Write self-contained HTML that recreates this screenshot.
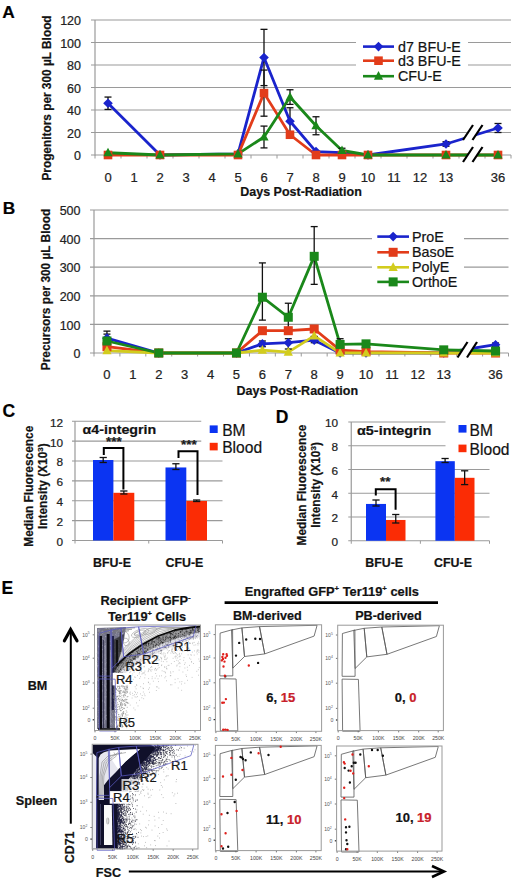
<!DOCTYPE html><html><head><meta charset="utf-8"><style>html,body{margin:0;padding:0;background:#fff;width:520px;height:883px;overflow:hidden}svg{display:block} text{stroke:#222;stroke-width:0.22px;paint-order:fill} .nr{stroke:none}</style></head><body><svg width="520" height="883" viewBox="0 0 520 883" font-family='"Liberation Sans", sans-serif'>
<rect width="520" height="883" fill="#fff"/>
<text x="2.20" y="17.60" font-size="17.3" font-weight="bold" text-anchor="start" fill="#000" >A</text>
<text x="2.70" y="213.60" font-size="17.3" font-weight="bold" text-anchor="start" fill="#000" >B</text>
<text x="2.50" y="416.60" font-size="17.5" font-weight="bold" text-anchor="start" fill="#000" >C</text>
<text x="275.80" y="423.40" font-size="17.5" font-weight="bold" text-anchor="start" fill="#000" >D</text>
<text x="1.60" y="593.50" font-size="17.5" font-weight="bold" text-anchor="start" fill="#000" >E</text>
<line x1="91.00" y1="132.50" x2="511.00" y2="132.50" stroke="#9a9a9a" stroke-width="1.2" />
<line x1="91.00" y1="110.00" x2="511.00" y2="110.00" stroke="#9a9a9a" stroke-width="1.2" />
<line x1="91.00" y1="87.50" x2="511.00" y2="87.50" stroke="#9a9a9a" stroke-width="1.2" />
<line x1="91.00" y1="65.00" x2="511.00" y2="65.00" stroke="#9a9a9a" stroke-width="1.2" />
<line x1="91.00" y1="42.50" x2="511.00" y2="42.50" stroke="#9a9a9a" stroke-width="1.2" />
<line x1="91.00" y1="20.00" x2="511.00" y2="20.00" stroke="#9a9a9a" stroke-width="1.2" />
<line x1="95.00" y1="20.00" x2="95.00" y2="155.50" stroke="#9a9a9a" stroke-width="1.2" />
<line x1="91.00" y1="155.00" x2="511.00" y2="155.00" stroke="#9a9a9a" stroke-width="1.2" />
<line x1="95.00" y1="155.00" x2="95.00" y2="158.50" stroke="#9a9a9a" stroke-width="1" />
<line x1="121.00" y1="155.00" x2="121.00" y2="158.50" stroke="#9a9a9a" stroke-width="1" />
<line x1="147.00" y1="155.00" x2="147.00" y2="158.50" stroke="#9a9a9a" stroke-width="1" />
<line x1="173.00" y1="155.00" x2="173.00" y2="158.50" stroke="#9a9a9a" stroke-width="1" />
<line x1="199.00" y1="155.00" x2="199.00" y2="158.50" stroke="#9a9a9a" stroke-width="1" />
<line x1="225.00" y1="155.00" x2="225.00" y2="158.50" stroke="#9a9a9a" stroke-width="1" />
<line x1="251.00" y1="155.00" x2="251.00" y2="158.50" stroke="#9a9a9a" stroke-width="1" />
<line x1="277.00" y1="155.00" x2="277.00" y2="158.50" stroke="#9a9a9a" stroke-width="1" />
<line x1="303.00" y1="155.00" x2="303.00" y2="158.50" stroke="#9a9a9a" stroke-width="1" />
<line x1="329.00" y1="155.00" x2="329.00" y2="158.50" stroke="#9a9a9a" stroke-width="1" />
<line x1="355.00" y1="155.00" x2="355.00" y2="158.50" stroke="#9a9a9a" stroke-width="1" />
<line x1="381.00" y1="155.00" x2="381.00" y2="158.50" stroke="#9a9a9a" stroke-width="1" />
<line x1="407.00" y1="155.00" x2="407.00" y2="158.50" stroke="#9a9a9a" stroke-width="1" />
<line x1="433.00" y1="155.00" x2="433.00" y2="158.50" stroke="#9a9a9a" stroke-width="1" />
<line x1="459.00" y1="155.00" x2="459.00" y2="158.50" stroke="#9a9a9a" stroke-width="1" />
<line x1="485.00" y1="155.00" x2="485.00" y2="158.50" stroke="#9a9a9a" stroke-width="1" />
<line x1="511.00" y1="155.00" x2="511.00" y2="158.50" stroke="#9a9a9a" stroke-width="1" />
<text x="81.00" y="160.20" font-size="12.5" font-weight="normal" text-anchor="end" fill="#222" >0</text>
<text x="81.00" y="137.70" font-size="12.5" font-weight="normal" text-anchor="end" fill="#222" >20</text>
<text x="81.00" y="115.20" font-size="12.5" font-weight="normal" text-anchor="end" fill="#222" >40</text>
<text x="81.00" y="92.70" font-size="12.5" font-weight="normal" text-anchor="end" fill="#222" >60</text>
<text x="81.00" y="70.20" font-size="12.5" font-weight="normal" text-anchor="end" fill="#222" >80</text>
<text x="81.00" y="47.70" font-size="12.5" font-weight="normal" text-anchor="end" fill="#222" >100</text>
<text x="81.00" y="25.20" font-size="12.5" font-weight="normal" text-anchor="end" fill="#222" >120</text>
<text x="108.00" y="182.00" font-size="13" font-weight="normal" text-anchor="middle" fill="#222" >0</text>
<text x="134.00" y="182.00" font-size="13" font-weight="normal" text-anchor="middle" fill="#222" >1</text>
<text x="160.00" y="182.00" font-size="13" font-weight="normal" text-anchor="middle" fill="#222" >2</text>
<text x="186.00" y="182.00" font-size="13" font-weight="normal" text-anchor="middle" fill="#222" >3</text>
<text x="212.00" y="182.00" font-size="13" font-weight="normal" text-anchor="middle" fill="#222" >4</text>
<text x="238.00" y="182.00" font-size="13" font-weight="normal" text-anchor="middle" fill="#222" >5</text>
<text x="264.00" y="182.00" font-size="13" font-weight="normal" text-anchor="middle" fill="#222" >6</text>
<text x="290.00" y="182.00" font-size="13" font-weight="normal" text-anchor="middle" fill="#222" >7</text>
<text x="316.00" y="182.00" font-size="13" font-weight="normal" text-anchor="middle" fill="#222" >8</text>
<text x="342.00" y="182.00" font-size="13" font-weight="normal" text-anchor="middle" fill="#222" >9</text>
<text x="368.00" y="182.00" font-size="13" font-weight="normal" text-anchor="middle" fill="#222" >10</text>
<text x="394.00" y="182.00" font-size="13" font-weight="normal" text-anchor="middle" fill="#222" >11</text>
<text x="420.00" y="182.00" font-size="13" font-weight="normal" text-anchor="middle" fill="#222" >12</text>
<text x="446.00" y="182.00" font-size="13" font-weight="normal" text-anchor="middle" fill="#222" >13</text>
<text x="498.00" y="182.00" font-size="13" font-weight="normal" text-anchor="middle" fill="#222" >36</text>
<text x="301.00" y="196.00" font-size="12.5" font-weight="bold" text-anchor="middle" fill="#111" >Days Post-Radiation</text>
<text transform="translate(51,98) rotate(-90)" font-size="11.85" font-weight="bold" text-anchor="middle" fill="#111">Progenitors per 300 µL Blood</text>
<rect x="356" y="35" width="112" height="49" fill="#fff"/>
<path d="M108.00 103.25 L160.00 155.00 L238.00 153.88 L264.00 57.46 L290.00 121.25 L316.00 151.62 L342.00 152.75 L368.00 155.00 L446.00 143.97" fill="none" stroke="#1a24cc" stroke-width="2.8" stroke-linejoin="round"/>
<path d="M446.00 143.97 L498.00 128.00" fill="none" stroke="#1a24cc" stroke-width="2.8" stroke-linejoin="round"/>
<path d="M108.00 155.00 L160.00 155.00 L238.00 155.00 L264.00 93.12 L290.00 134.75 L316.00 155.00 L342.00 155.00 L368.00 155.00 L446.00 155.00" fill="none" stroke="#e23c1a" stroke-width="2.8" stroke-linejoin="round"/>
<path d="M446.00 155.00 L498.00 155.00" fill="none" stroke="#e23c1a" stroke-width="2.8" stroke-linejoin="round"/>
<path d="M108.00 152.75 L160.00 155.00 L238.00 153.88 L264.00 137.00 L290.00 97.06 L316.00 125.75 L342.00 150.50 L368.00 155.00 L446.00 155.00" fill="none" stroke="#1a881a" stroke-width="2.8" stroke-linejoin="round"/>
<path d="M446.00 155.00 L498.00 155.00" fill="none" stroke="#1a881a" stroke-width="2.8" stroke-linejoin="round"/>
<line x1="108.00" y1="97.06" x2="108.00" y2="109.44" stroke="#111" stroke-width="1.3" />
<line x1="104.50" y1="97.06" x2="111.50" y2="97.06" stroke="#111" stroke-width="1.3" />
<line x1="104.50" y1="109.44" x2="111.50" y2="109.44" stroke="#111" stroke-width="1.3" />
<line x1="264.00" y1="29.34" x2="264.00" y2="85.59" stroke="#111" stroke-width="1.3" />
<line x1="260.50" y1="29.34" x2="267.50" y2="29.34" stroke="#111" stroke-width="1.3" />
<line x1="260.50" y1="85.59" x2="267.50" y2="85.59" stroke="#111" stroke-width="1.3" />
<line x1="290.00" y1="107.75" x2="290.00" y2="134.75" stroke="#111" stroke-width="1.3" />
<line x1="286.50" y1="107.75" x2="293.50" y2="107.75" stroke="#111" stroke-width="1.3" />
<line x1="286.50" y1="134.75" x2="293.50" y2="134.75" stroke="#111" stroke-width="1.3" />
<line x1="446.00" y1="141.72" x2="446.00" y2="146.22" stroke="#111" stroke-width="1.3" />
<line x1="442.50" y1="141.72" x2="449.50" y2="141.72" stroke="#111" stroke-width="1.3" />
<line x1="442.50" y1="146.22" x2="449.50" y2="146.22" stroke="#111" stroke-width="1.3" />
<line x1="498.00" y1="123.50" x2="498.00" y2="132.50" stroke="#111" stroke-width="1.3" />
<line x1="494.50" y1="123.50" x2="501.50" y2="123.50" stroke="#111" stroke-width="1.3" />
<line x1="494.50" y1="132.50" x2="501.50" y2="132.50" stroke="#111" stroke-width="1.3" />
<line x1="264.00" y1="70.06" x2="264.00" y2="116.19" stroke="#111" stroke-width="1.3" />
<line x1="260.50" y1="70.06" x2="267.50" y2="70.06" stroke="#111" stroke-width="1.3" />
<line x1="260.50" y1="116.19" x2="267.50" y2="116.19" stroke="#111" stroke-width="1.3" />
<line x1="264.00" y1="126.09" x2="264.00" y2="147.91" stroke="#111" stroke-width="1.3" />
<line x1="260.50" y1="126.09" x2="267.50" y2="126.09" stroke="#111" stroke-width="1.3" />
<line x1="260.50" y1="147.91" x2="267.50" y2="147.91" stroke="#111" stroke-width="1.3" />
<line x1="290.00" y1="89.75" x2="290.00" y2="104.38" stroke="#111" stroke-width="1.3" />
<line x1="286.50" y1="89.75" x2="293.50" y2="89.75" stroke="#111" stroke-width="1.3" />
<line x1="286.50" y1="104.38" x2="293.50" y2="104.38" stroke="#111" stroke-width="1.3" />
<line x1="316.00" y1="116.75" x2="316.00" y2="134.75" stroke="#111" stroke-width="1.3" />
<line x1="312.50" y1="116.75" x2="319.50" y2="116.75" stroke="#111" stroke-width="1.3" />
<line x1="312.50" y1="134.75" x2="319.50" y2="134.75" stroke="#111" stroke-width="1.3" />
<line x1="342.00" y1="148.25" x2="342.00" y2="152.75" stroke="#111" stroke-width="1.3" />
<line x1="338.50" y1="148.25" x2="345.50" y2="148.25" stroke="#111" stroke-width="1.3" />
<line x1="338.50" y1="152.75" x2="345.50" y2="152.75" stroke="#111" stroke-width="1.3" />
<path d="M108.00 98.45L112.80 103.25L108.00 108.05L103.20 103.25Z" fill="#1a24cc"/>
<path d="M160.00 150.20L164.80 155.00L160.00 159.80L155.20 155.00Z" fill="#1a24cc"/>
<path d="M238.00 149.07L242.80 153.88L238.00 158.68L233.20 153.88Z" fill="#1a24cc"/>
<path d="M264.00 52.66L268.80 57.46L264.00 62.26L259.20 57.46Z" fill="#1a24cc"/>
<path d="M290.00 116.45L294.80 121.25L290.00 126.05L285.20 121.25Z" fill="#1a24cc"/>
<path d="M316.00 146.82L320.80 151.62L316.00 156.43L311.20 151.62Z" fill="#1a24cc"/>
<path d="M342.00 147.95L346.80 152.75L342.00 157.55L337.20 152.75Z" fill="#1a24cc"/>
<path d="M368.00 150.20L372.80 155.00L368.00 159.80L363.20 155.00Z" fill="#1a24cc"/>
<path d="M446.00 139.17L450.80 143.97L446.00 148.78L441.20 143.97Z" fill="#1a24cc"/>
<path d="M498.00 123.20L502.80 128.00L498.00 132.80L493.20 128.00Z" fill="#1a24cc"/>
<rect x="103.70" y="150.70" width="8.60" height="8.60" fill="#e23c1a"/>
<rect x="155.70" y="150.70" width="8.60" height="8.60" fill="#e23c1a"/>
<rect x="233.70" y="150.70" width="8.60" height="8.60" fill="#e23c1a"/>
<rect x="259.70" y="88.83" width="8.60" height="8.60" fill="#e23c1a"/>
<rect x="285.70" y="130.45" width="8.60" height="8.60" fill="#e23c1a"/>
<rect x="311.70" y="150.70" width="8.60" height="8.60" fill="#e23c1a"/>
<rect x="337.70" y="150.70" width="8.60" height="8.60" fill="#e23c1a"/>
<rect x="363.70" y="150.70" width="8.60" height="8.60" fill="#e23c1a"/>
<rect x="441.70" y="150.70" width="8.60" height="8.60" fill="#e23c1a"/>
<rect x="493.70" y="150.70" width="8.60" height="8.60" fill="#e23c1a"/>
<path d="M108.00 147.65L112.60 156.35L103.40 156.35Z" fill="#1a881a"/>
<path d="M160.00 149.90L164.60 158.60L155.40 158.60Z" fill="#1a881a"/>
<path d="M238.00 148.78L242.60 157.47L233.40 157.47Z" fill="#1a881a"/>
<path d="M264.00 131.90L268.60 140.60L259.40 140.60Z" fill="#1a881a"/>
<path d="M290.00 91.96L294.60 100.66L285.40 100.66Z" fill="#1a881a"/>
<path d="M316.00 120.65L320.60 129.35L311.40 129.35Z" fill="#1a881a"/>
<path d="M342.00 145.40L346.60 154.10L337.40 154.10Z" fill="#1a881a"/>
<path d="M368.00 149.90L372.60 158.60L363.40 158.60Z" fill="#1a881a"/>
<path d="M446.00 149.90L450.60 158.60L441.40 158.60Z" fill="#1a881a"/>
<path d="M498.00 149.90L502.60 158.60L493.40 158.60Z" fill="#1a881a"/>
<path d="M463.00 140.00 L473.00 125.00 L482.50 125.00 L472.50 140.00Z" fill="#fff"/>
<line x1="463.00" y1="140.00" x2="473.00" y2="125.00" stroke="#000" stroke-width="2.2" />
<line x1="472.50" y1="140.00" x2="482.50" y2="125.00" stroke="#000" stroke-width="2.2" />
<path d="M463.00 162.00 L473.00 147.00 L482.50 147.00 L472.50 162.00Z" fill="#fff"/>
<line x1="463.00" y1="162.00" x2="473.00" y2="147.00" stroke="#000" stroke-width="2.2" />
<line x1="472.50" y1="162.00" x2="482.50" y2="147.00" stroke="#000" stroke-width="2.2" />
<line x1="363.00" y1="46.60" x2="394.00" y2="46.60" stroke="#1a24cc" stroke-width="2.6" />
<path d="M378.50 41.80L383.30 46.60L378.50 51.40L373.70 46.60Z" fill="#1a24cc"/>
<text x="398.00" y="51.70" font-size="14.3" font-weight="normal" text-anchor="start" fill="#111" >d7 BFU-E</text>
<line x1="363.00" y1="60.70" x2="394.00" y2="60.70" stroke="#e23c1a" stroke-width="2.6" />
<rect x="374.20" y="56.40" width="8.60" height="8.60" fill="#e23c1a"/>
<text x="398.00" y="65.80" font-size="14.3" font-weight="normal" text-anchor="start" fill="#111" >d3 BFU-E</text>
<line x1="363.00" y1="76.20" x2="394.00" y2="76.20" stroke="#1a881a" stroke-width="2.6" />
<path d="M378.50 71.10L383.10 79.80L373.90 79.80Z" fill="#1a881a"/>
<text x="398.00" y="81.30" font-size="14.3" font-weight="normal" text-anchor="start" fill="#111" >CFU-E</text>
<line x1="90.00" y1="324.40" x2="508.50" y2="324.40" stroke="#9a9a9a" stroke-width="1.2" />
<line x1="90.00" y1="295.80" x2="508.50" y2="295.80" stroke="#9a9a9a" stroke-width="1.2" />
<line x1="90.00" y1="267.20" x2="508.50" y2="267.20" stroke="#9a9a9a" stroke-width="1.2" />
<line x1="90.00" y1="238.60" x2="508.50" y2="238.60" stroke="#9a9a9a" stroke-width="1.2" />
<line x1="90.00" y1="210.00" x2="508.50" y2="210.00" stroke="#9a9a9a" stroke-width="1.2" />
<line x1="94.00" y1="210.00" x2="94.00" y2="353.50" stroke="#9a9a9a" stroke-width="1.2" />
<line x1="90.00" y1="353.00" x2="508.50" y2="353.00" stroke="#9a9a9a" stroke-width="1.2" />
<line x1="94.00" y1="353.00" x2="94.00" y2="356.50" stroke="#9a9a9a" stroke-width="1" />
<line x1="119.91" y1="353.00" x2="119.91" y2="356.50" stroke="#9a9a9a" stroke-width="1" />
<line x1="145.81" y1="353.00" x2="145.81" y2="356.50" stroke="#9a9a9a" stroke-width="1" />
<line x1="171.72" y1="353.00" x2="171.72" y2="356.50" stroke="#9a9a9a" stroke-width="1" />
<line x1="197.62" y1="353.00" x2="197.62" y2="356.50" stroke="#9a9a9a" stroke-width="1" />
<line x1="223.53" y1="353.00" x2="223.53" y2="356.50" stroke="#9a9a9a" stroke-width="1" />
<line x1="249.44" y1="353.00" x2="249.44" y2="356.50" stroke="#9a9a9a" stroke-width="1" />
<line x1="275.34" y1="353.00" x2="275.34" y2="356.50" stroke="#9a9a9a" stroke-width="1" />
<line x1="301.25" y1="353.00" x2="301.25" y2="356.50" stroke="#9a9a9a" stroke-width="1" />
<line x1="327.16" y1="353.00" x2="327.16" y2="356.50" stroke="#9a9a9a" stroke-width="1" />
<line x1="353.06" y1="353.00" x2="353.06" y2="356.50" stroke="#9a9a9a" stroke-width="1" />
<line x1="378.97" y1="353.00" x2="378.97" y2="356.50" stroke="#9a9a9a" stroke-width="1" />
<line x1="404.88" y1="353.00" x2="404.88" y2="356.50" stroke="#9a9a9a" stroke-width="1" />
<line x1="430.78" y1="353.00" x2="430.78" y2="356.50" stroke="#9a9a9a" stroke-width="1" />
<line x1="456.69" y1="353.00" x2="456.69" y2="356.50" stroke="#9a9a9a" stroke-width="1" />
<line x1="482.59" y1="353.00" x2="482.59" y2="356.50" stroke="#9a9a9a" stroke-width="1" />
<line x1="508.50" y1="353.00" x2="508.50" y2="356.50" stroke="#9a9a9a" stroke-width="1" />
<text x="80.50" y="358.20" font-size="12.5" font-weight="normal" text-anchor="end" fill="#222" >0</text>
<text x="80.50" y="329.60" font-size="12.5" font-weight="normal" text-anchor="end" fill="#222" >100</text>
<text x="80.50" y="301.00" font-size="12.5" font-weight="normal" text-anchor="end" fill="#222" >200</text>
<text x="80.50" y="272.40" font-size="12.5" font-weight="normal" text-anchor="end" fill="#222" >300</text>
<text x="80.50" y="243.80" font-size="12.5" font-weight="normal" text-anchor="end" fill="#222" >400</text>
<text x="80.50" y="215.20" font-size="12.5" font-weight="normal" text-anchor="end" fill="#222" >500</text>
<text x="106.95" y="379.00" font-size="13" font-weight="normal" text-anchor="middle" fill="#222" >0</text>
<text x="132.86" y="379.00" font-size="13" font-weight="normal" text-anchor="middle" fill="#222" >1</text>
<text x="158.77" y="379.00" font-size="13" font-weight="normal" text-anchor="middle" fill="#222" >2</text>
<text x="184.67" y="379.00" font-size="13" font-weight="normal" text-anchor="middle" fill="#222" >3</text>
<text x="210.58" y="379.00" font-size="13" font-weight="normal" text-anchor="middle" fill="#222" >4</text>
<text x="236.48" y="379.00" font-size="13" font-weight="normal" text-anchor="middle" fill="#222" >5</text>
<text x="262.39" y="379.00" font-size="13" font-weight="normal" text-anchor="middle" fill="#222" >6</text>
<text x="288.30" y="379.00" font-size="13" font-weight="normal" text-anchor="middle" fill="#222" >7</text>
<text x="314.20" y="379.00" font-size="13" font-weight="normal" text-anchor="middle" fill="#222" >8</text>
<text x="340.11" y="379.00" font-size="13" font-weight="normal" text-anchor="middle" fill="#222" >9</text>
<text x="366.02" y="379.00" font-size="13" font-weight="normal" text-anchor="middle" fill="#222" >10</text>
<text x="391.92" y="379.00" font-size="13" font-weight="normal" text-anchor="middle" fill="#222" >11</text>
<text x="417.83" y="379.00" font-size="13" font-weight="normal" text-anchor="middle" fill="#222" >12</text>
<text x="443.73" y="379.00" font-size="13" font-weight="normal" text-anchor="middle" fill="#222" >13</text>
<text x="495.55" y="379.00" font-size="13" font-weight="normal" text-anchor="middle" fill="#222" >36</text>
<text x="297.30" y="394.80" font-size="12.5" font-weight="bold" text-anchor="middle" fill="#111" >Days Post-Radiation</text>
<text transform="translate(50.2,289.5) rotate(-90)" font-size="11.85" font-weight="bold" text-anchor="middle" fill="#111">Precursors per 300 µL Blood</text>
<rect x="372" y="226" width="92" height="64" fill="#fff"/>
<path d="M106.95 338.13 L158.77 353.00 L236.48 353.00 L262.39 343.85 L288.30 342.70 L314.20 340.13 L340.11 353.00 L366.02 353.00 L443.73 353.00" fill="none" stroke="#1a24cc" stroke-width="2.8" stroke-linejoin="round"/>
<path d="M443.73 353.00 L495.55 344.71" fill="none" stroke="#1a24cc" stroke-width="2.8" stroke-linejoin="round"/>
<path d="M106.95 346.71 L158.77 353.00 L236.48 353.00 L262.39 330.69 L288.30 330.69 L314.20 328.98 L340.11 350.14 L366.02 351.57 L443.73 353.00" fill="none" stroke="#e23c1a" stroke-width="2.8" stroke-linejoin="round"/>
<path d="M443.73 353.00 L495.55 353.00" fill="none" stroke="#e23c1a" stroke-width="2.8" stroke-linejoin="round"/>
<path d="M106.95 350.71 L158.77 353.00 L236.48 353.00 L262.39 350.14 L288.30 352.14 L314.20 335.84 L340.11 353.00 L366.02 353.00 L443.73 353.00" fill="none" stroke="#d2cc1e" stroke-width="2.8" stroke-linejoin="round"/>
<path d="M443.73 353.00 L495.55 353.00" fill="none" stroke="#d2cc1e" stroke-width="2.8" stroke-linejoin="round"/>
<path d="M106.95 340.99 L158.77 353.00 L236.48 353.00 L262.39 297.23 L288.30 317.25 L314.20 256.33 L340.11 344.42 L366.02 343.85 L443.73 349.85" fill="none" stroke="#1a881a" stroke-width="2.8" stroke-linejoin="round"/>
<path d="M443.73 349.85 L495.55 351.00" fill="none" stroke="#1a881a" stroke-width="2.8" stroke-linejoin="round"/>
<line x1="106.95" y1="331.12" x2="106.95" y2="345.13" stroke="#111" stroke-width="1.3" />
<line x1="103.45" y1="331.12" x2="110.45" y2="331.12" stroke="#111" stroke-width="1.3" />
<line x1="103.45" y1="345.13" x2="110.45" y2="345.13" stroke="#111" stroke-width="1.3" />
<line x1="262.39" y1="340.99" x2="262.39" y2="346.71" stroke="#111" stroke-width="1.3" />
<line x1="258.89" y1="340.99" x2="265.89" y2="340.99" stroke="#111" stroke-width="1.3" />
<line x1="258.89" y1="346.71" x2="265.89" y2="346.71" stroke="#111" stroke-width="1.3" />
<line x1="288.30" y1="338.70" x2="288.30" y2="349.00" stroke="#111" stroke-width="1.3" />
<line x1="284.80" y1="338.70" x2="291.80" y2="338.70" stroke="#111" stroke-width="1.3" />
<line x1="284.80" y1="349.00" x2="291.80" y2="349.00" stroke="#111" stroke-width="1.3" />
<line x1="314.20" y1="336.41" x2="314.20" y2="342.70" stroke="#111" stroke-width="1.3" />
<line x1="310.70" y1="336.41" x2="317.70" y2="336.41" stroke="#111" stroke-width="1.3" />
<line x1="310.70" y1="342.70" x2="317.70" y2="342.70" stroke="#111" stroke-width="1.3" />
<line x1="495.55" y1="342.99" x2="495.55" y2="346.42" stroke="#111" stroke-width="1.3" />
<line x1="492.05" y1="342.99" x2="499.05" y2="342.99" stroke="#111" stroke-width="1.3" />
<line x1="492.05" y1="346.42" x2="499.05" y2="346.42" stroke="#111" stroke-width="1.3" />
<line x1="314.20" y1="326.12" x2="314.20" y2="331.84" stroke="#111" stroke-width="1.3" />
<line x1="310.70" y1="326.12" x2="317.70" y2="326.12" stroke="#111" stroke-width="1.3" />
<line x1="310.70" y1="331.84" x2="317.70" y2="331.84" stroke="#111" stroke-width="1.3" />
<line x1="106.95" y1="334.12" x2="106.95" y2="347.85" stroke="#111" stroke-width="1.3" />
<line x1="103.45" y1="334.12" x2="110.45" y2="334.12" stroke="#111" stroke-width="1.3" />
<line x1="103.45" y1="347.85" x2="110.45" y2="347.85" stroke="#111" stroke-width="1.3" />
<line x1="262.39" y1="262.91" x2="262.39" y2="320.11" stroke="#111" stroke-width="1.3" />
<line x1="258.89" y1="262.91" x2="265.89" y2="262.91" stroke="#111" stroke-width="1.3" />
<line x1="258.89" y1="320.11" x2="265.89" y2="320.11" stroke="#111" stroke-width="1.3" />
<line x1="288.30" y1="303.24" x2="288.30" y2="328.98" stroke="#111" stroke-width="1.3" />
<line x1="284.80" y1="303.24" x2="291.80" y2="303.24" stroke="#111" stroke-width="1.3" />
<line x1="284.80" y1="328.98" x2="291.80" y2="328.98" stroke="#111" stroke-width="1.3" />
<line x1="314.20" y1="226.59" x2="314.20" y2="284.36" stroke="#111" stroke-width="1.3" />
<line x1="310.70" y1="226.59" x2="317.70" y2="226.59" stroke="#111" stroke-width="1.3" />
<line x1="310.70" y1="284.36" x2="317.70" y2="284.36" stroke="#111" stroke-width="1.3" />
<line x1="340.11" y1="338.70" x2="340.11" y2="350.14" stroke="#111" stroke-width="1.3" />
<line x1="336.61" y1="338.70" x2="343.61" y2="338.70" stroke="#111" stroke-width="1.3" />
<line x1="336.61" y1="350.14" x2="343.61" y2="350.14" stroke="#111" stroke-width="1.3" />
<path d="M106.95 333.33L111.75 338.13L106.95 342.93L102.15 338.13Z" fill="#1a24cc"/>
<path d="M158.77 348.20L163.57 353.00L158.77 357.80L153.97 353.00Z" fill="#1a24cc"/>
<path d="M236.48 348.20L241.28 353.00L236.48 357.80L231.68 353.00Z" fill="#1a24cc"/>
<path d="M262.39 339.05L267.19 343.85L262.39 348.65L257.59 343.85Z" fill="#1a24cc"/>
<path d="M288.30 337.90L293.10 342.70L288.30 347.50L283.50 342.70Z" fill="#1a24cc"/>
<path d="M314.20 335.33L319.00 340.13L314.20 344.93L309.40 340.13Z" fill="#1a24cc"/>
<path d="M340.11 348.20L344.91 353.00L340.11 357.80L335.31 353.00Z" fill="#1a24cc"/>
<path d="M366.02 348.20L370.82 353.00L366.02 357.80L361.22 353.00Z" fill="#1a24cc"/>
<path d="M443.73 348.20L448.53 353.00L443.73 357.80L438.93 353.00Z" fill="#1a24cc"/>
<path d="M495.55 339.91L500.35 344.71L495.55 349.51L490.75 344.71Z" fill="#1a24cc"/>
<rect x="102.45" y="342.21" width="9.00" height="9.00" fill="#e23c1a"/>
<rect x="154.27" y="348.50" width="9.00" height="9.00" fill="#e23c1a"/>
<rect x="231.98" y="348.50" width="9.00" height="9.00" fill="#e23c1a"/>
<rect x="257.89" y="326.19" width="9.00" height="9.00" fill="#e23c1a"/>
<rect x="283.80" y="326.19" width="9.00" height="9.00" fill="#e23c1a"/>
<rect x="309.70" y="324.48" width="9.00" height="9.00" fill="#e23c1a"/>
<rect x="335.61" y="345.64" width="9.00" height="9.00" fill="#e23c1a"/>
<rect x="361.52" y="347.07" width="9.00" height="9.00" fill="#e23c1a"/>
<rect x="439.23" y="348.50" width="9.00" height="9.00" fill="#e23c1a"/>
<rect x="491.05" y="348.50" width="9.00" height="9.00" fill="#e23c1a"/>
<path d="M106.95 345.61L111.55 354.31L102.35 354.31Z" fill="#d2cc1e"/>
<path d="M158.77 347.90L163.37 356.60L154.17 356.60Z" fill="#d2cc1e"/>
<path d="M236.48 347.90L241.08 356.60L231.88 356.60Z" fill="#d2cc1e"/>
<path d="M262.39 345.04L266.99 353.74L257.79 353.74Z" fill="#d2cc1e"/>
<path d="M288.30 347.04L292.90 355.74L283.70 355.74Z" fill="#d2cc1e"/>
<path d="M314.20 330.74L318.80 339.44L309.60 339.44Z" fill="#d2cc1e"/>
<path d="M340.11 347.90L344.71 356.60L335.51 356.60Z" fill="#d2cc1e"/>
<path d="M366.02 347.90L370.62 356.60L361.42 356.60Z" fill="#d2cc1e"/>
<path d="M443.73 347.90L448.33 356.60L439.13 356.60Z" fill="#d2cc1e"/>
<path d="M495.55 347.90L500.15 356.60L490.95 356.60Z" fill="#d2cc1e"/>
<rect x="102.45" y="336.49" width="9.00" height="9.00" fill="#1a881a"/>
<rect x="154.27" y="348.50" width="9.00" height="9.00" fill="#1a881a"/>
<rect x="231.98" y="348.50" width="9.00" height="9.00" fill="#1a881a"/>
<rect x="257.89" y="292.73" width="9.00" height="9.00" fill="#1a881a"/>
<rect x="283.80" y="312.75" width="9.00" height="9.00" fill="#1a881a"/>
<rect x="309.70" y="251.83" width="9.00" height="9.00" fill="#1a881a"/>
<rect x="335.61" y="339.92" width="9.00" height="9.00" fill="#1a881a"/>
<rect x="361.52" y="339.35" width="9.00" height="9.00" fill="#1a881a"/>
<rect x="439.23" y="345.35" width="9.00" height="9.00" fill="#1a881a"/>
<rect x="491.05" y="346.50" width="9.00" height="9.00" fill="#1a881a"/>
<path d="M457.50 357.50 L467.50 342.00 L477.00 342.00 L467.00 357.50Z" fill="#fff"/>
<line x1="457.50" y1="357.50" x2="467.50" y2="342.00" stroke="#000" stroke-width="2.2" />
<line x1="467.00" y1="357.50" x2="477.00" y2="342.00" stroke="#000" stroke-width="2.2" />
<line x1="377.30" y1="236.60" x2="409.00" y2="236.60" stroke="#1a24cc" stroke-width="2.6" />
<path d="M393.15 231.80L397.95 236.60L393.15 241.40L388.35 236.60Z" fill="#1a24cc"/>
<text x="412.00" y="241.70" font-size="14.3" font-weight="normal" text-anchor="start" fill="#111" >ProE</text>
<line x1="377.30" y1="252.30" x2="409.00" y2="252.30" stroke="#e23c1a" stroke-width="2.6" />
<rect x="388.65" y="247.80" width="9.00" height="9.00" fill="#e23c1a"/>
<text x="412.00" y="257.40" font-size="14.3" font-weight="normal" text-anchor="start" fill="#111" >BasoE</text>
<line x1="377.30" y1="267.30" x2="409.00" y2="267.30" stroke="#d2cc1e" stroke-width="2.6" />
<path d="M393.15 262.20L397.75 270.90L388.55 270.90Z" fill="#d2cc1e"/>
<text x="412.00" y="272.40" font-size="14.3" font-weight="normal" text-anchor="start" fill="#111" >PolyE</text>
<line x1="377.30" y1="281.90" x2="409.00" y2="281.90" stroke="#1a881a" stroke-width="2.6" />
<rect x="388.65" y="277.40" width="9.00" height="9.00" fill="#1a881a"/>
<text x="412.00" y="287.00" font-size="14.3" font-weight="normal" text-anchor="start" fill="#111" >OrthoE</text>
<line x1="72.00" y1="520.62" x2="222.50" y2="520.62" stroke="#9a9a9a" stroke-width="1.2" />
<line x1="72.00" y1="500.75" x2="222.50" y2="500.75" stroke="#9a9a9a" stroke-width="1.2" />
<line x1="72.00" y1="480.88" x2="222.50" y2="480.88" stroke="#9a9a9a" stroke-width="1.2" />
<line x1="72.00" y1="461.00" x2="222.50" y2="461.00" stroke="#9a9a9a" stroke-width="1.2" />
<line x1="72.00" y1="441.12" x2="201.25" y2="441.12" stroke="#9a9a9a" stroke-width="1.2" />
<line x1="72.00" y1="421.25" x2="201.25" y2="421.25" stroke="#9a9a9a" stroke-width="1.2" />
<line x1="75.00" y1="421.25" x2="75.00" y2="540.50" stroke="#9a9a9a" stroke-width="1.2" />
<line x1="72.00" y1="540.50" x2="222.50" y2="540.50" stroke="#9a9a9a" stroke-width="1.2" />
<line x1="75.00" y1="540.50" x2="75.00" y2="543.50" stroke="#9a9a9a" stroke-width="1" />
<line x1="148.75" y1="540.50" x2="148.75" y2="543.50" stroke="#9a9a9a" stroke-width="1" />
<line x1="222.50" y1="540.50" x2="222.50" y2="543.50" stroke="#9a9a9a" stroke-width="1" />
<text x="63.00" y="545.90" font-size="11.8" font-weight="normal" text-anchor="end" fill="#222" >0</text>
<text x="63.00" y="526.02" font-size="11.8" font-weight="normal" text-anchor="end" fill="#222" >2</text>
<text x="63.00" y="506.15" font-size="11.8" font-weight="normal" text-anchor="end" fill="#222" >4</text>
<text x="63.00" y="486.27" font-size="11.8" font-weight="normal" text-anchor="end" fill="#222" >6</text>
<text x="63.00" y="466.40" font-size="11.8" font-weight="normal" text-anchor="end" fill="#222" >8</text>
<text x="63.00" y="446.52" font-size="11.8" font-weight="normal" text-anchor="end" fill="#222" >10</text>
<text x="63.00" y="426.65" font-size="11.8" font-weight="normal" text-anchor="end" fill="#222" >12</text>
<rect x="93.00" y="460.01" width="20.40" height="80.49" fill="#0b34f2"/>
<line x1="103.20" y1="457.50" x2="103.20" y2="462.50" stroke="#111" stroke-width="1.3" />
<line x1="99.60" y1="457.50" x2="106.80" y2="457.50" stroke="#111" stroke-width="1.3" />
<line x1="99.60" y1="462.50" x2="106.80" y2="462.50" stroke="#111" stroke-width="1.3" />
<rect x="113.40" y="492.80" width="20.90" height="47.70" fill="#fb2c05"/>
<line x1="123.85" y1="491.00" x2="123.85" y2="494.00" stroke="#111" stroke-width="1.3" />
<line x1="120.25" y1="491.00" x2="127.45" y2="491.00" stroke="#111" stroke-width="1.3" />
<line x1="120.25" y1="494.00" x2="127.45" y2="494.00" stroke="#111" stroke-width="1.3" />
<rect x="165.50" y="467.46" width="20.80" height="73.04" fill="#0b34f2"/>
<line x1="175.90" y1="463.75" x2="175.90" y2="469.50" stroke="#111" stroke-width="1.3" />
<line x1="172.30" y1="463.75" x2="179.50" y2="463.75" stroke="#111" stroke-width="1.3" />
<line x1="172.30" y1="469.50" x2="179.50" y2="469.50" stroke="#111" stroke-width="1.3" />
<rect x="186.30" y="500.95" width="20.70" height="39.55" fill="#fb2c05"/>
<line x1="196.65" y1="500.00" x2="196.65" y2="501.50" stroke="#111" stroke-width="1.3" />
<line x1="193.05" y1="500.00" x2="200.25" y2="500.00" stroke="#111" stroke-width="1.3" />
<line x1="193.05" y1="501.50" x2="200.25" y2="501.50" stroke="#111" stroke-width="1.3" />
<path d="M103.8 455 L103.8 448 L123.4 448 L123.4 489.5" fill="none" stroke="#000" stroke-width="2"/>
<text x="113.80" y="446.20" font-size="13.5" font-weight="bold" text-anchor="middle" fill="#1a1a1a" >***</text>
<path d="M178.5 458 L178.5 451.3 L197.5 451.3 L197.5 495" fill="none" stroke="#000" stroke-width="2"/>
<text x="188.80" y="448.70" font-size="13.5" font-weight="bold" text-anchor="middle" fill="#1a1a1a" >***</text>
<text x="82.60" y="433.50" font-size="13.5" font-weight="bold" text-anchor="start" fill="#111" textLength="73.7" lengthAdjust="spacingAndGlyphs">α4-integrin</text>
<rect x="209.7" y="425.4" width="8" height="7.6" fill="#0b34f2"/>
<rect x="209.7" y="442.8" width="8" height="7.6" fill="#fb2c05"/>
<text x="222.20" y="436.10" font-size="15.6" font-weight="normal" text-anchor="start" fill="#111" >BM</text>
<text x="222.20" y="453.30" font-size="15.6" font-weight="normal" text-anchor="start" fill="#111" >Blood</text>
<text x="112.00" y="567.00" font-size="12.4" font-weight="bold" text-anchor="middle" fill="#111" >BFU-E</text>
<text x="184.40" y="567.00" font-size="12.4" font-weight="bold" text-anchor="middle" fill="#111" >CFU-E</text>
<text transform="translate(33,486.2) rotate(-90)" font-size="11.9" font-weight="bold" text-anchor="middle" fill="#111">Median Fluorescence</text>
<text transform="translate(47,486.2) rotate(-90)" font-size="11.9" font-weight="bold" text-anchor="middle" fill="#111">Intensity (X10<tspan font-size="8" dy="-4">3</tspan><tspan dy="4">)</tspan></text>
<line x1="348.25" y1="517.00" x2="489.50" y2="517.00" stroke="#9a9a9a" stroke-width="1.2" />
<line x1="348.25" y1="493.25" x2="489.50" y2="493.25" stroke="#9a9a9a" stroke-width="1.2" />
<line x1="348.25" y1="469.50" x2="489.50" y2="469.50" stroke="#9a9a9a" stroke-width="1.2" />
<line x1="348.25" y1="445.75" x2="445.50" y2="445.75" stroke="#9a9a9a" stroke-width="1.2" />
<line x1="348.25" y1="422.00" x2="445.50" y2="422.00" stroke="#9a9a9a" stroke-width="1.2" />
<line x1="351.25" y1="422.00" x2="351.25" y2="540.75" stroke="#9a9a9a" stroke-width="1.2" />
<line x1="348.25" y1="540.75" x2="489.50" y2="540.75" stroke="#9a9a9a" stroke-width="1.2" />
<line x1="351.25" y1="540.75" x2="351.25" y2="543.75" stroke="#9a9a9a" stroke-width="1" />
<line x1="420.38" y1="540.75" x2="420.38" y2="543.75" stroke="#9a9a9a" stroke-width="1" />
<line x1="489.50" y1="540.75" x2="489.50" y2="543.75" stroke="#9a9a9a" stroke-width="1" />
<text x="338.00" y="546.15" font-size="11.8" font-weight="normal" text-anchor="end" fill="#222" >0</text>
<text x="338.00" y="522.40" font-size="11.8" font-weight="normal" text-anchor="end" fill="#222" >2</text>
<text x="338.00" y="498.65" font-size="11.8" font-weight="normal" text-anchor="end" fill="#222" >4</text>
<text x="338.00" y="474.90" font-size="11.8" font-weight="normal" text-anchor="end" fill="#222" >6</text>
<text x="338.00" y="451.15" font-size="11.8" font-weight="normal" text-anchor="end" fill="#222" >8</text>
<text x="338.00" y="427.40" font-size="11.8" font-weight="normal" text-anchor="end" fill="#222" >10</text>
<rect x="366.00" y="503.94" width="20.00" height="36.81" fill="#0b34f2"/>
<line x1="376.00" y1="500.00" x2="376.00" y2="506.00" stroke="#111" stroke-width="1.3" />
<line x1="372.40" y1="500.00" x2="379.60" y2="500.00" stroke="#111" stroke-width="1.3" />
<line x1="372.40" y1="506.00" x2="379.60" y2="506.00" stroke="#111" stroke-width="1.3" />
<rect x="386.00" y="519.97" width="19.50" height="20.78" fill="#fb2c05"/>
<line x1="395.75" y1="514.50" x2="395.75" y2="523.00" stroke="#111" stroke-width="1.3" />
<line x1="392.15" y1="514.50" x2="399.35" y2="514.50" stroke="#111" stroke-width="1.3" />
<line x1="392.15" y1="523.00" x2="399.35" y2="523.00" stroke="#111" stroke-width="1.3" />
<rect x="435.40" y="461.19" width="19.40" height="79.56" fill="#0b34f2"/>
<line x1="445.10" y1="458.50" x2="445.10" y2="462.50" stroke="#111" stroke-width="1.3" />
<line x1="441.50" y1="458.50" x2="448.70" y2="458.50" stroke="#111" stroke-width="1.3" />
<line x1="441.50" y1="462.50" x2="448.70" y2="462.50" stroke="#111" stroke-width="1.3" />
<rect x="454.80" y="477.81" width="19.70" height="62.94" fill="#fb2c05"/>
<line x1="464.65" y1="470.80" x2="464.65" y2="484.60" stroke="#111" stroke-width="1.3" />
<line x1="461.05" y1="470.80" x2="468.25" y2="470.80" stroke="#111" stroke-width="1.3" />
<line x1="461.05" y1="484.60" x2="468.25" y2="484.60" stroke="#111" stroke-width="1.3" />
<path d="M375.8 495.5 L375.8 489.2 L395.6 489.2 L395.6 509.8" fill="none" stroke="#000" stroke-width="2"/>
<text x="385.20" y="486.00" font-size="13.5" font-weight="bold" text-anchor="middle" fill="#1a1a1a" >**</text>
<text x="357.00" y="435.40" font-size="13.5" font-weight="bold" text-anchor="start" fill="#111" textLength="74.4" lengthAdjust="spacingAndGlyphs">α5-integrin</text>
<rect x="458.5" y="425" width="8" height="7.6" fill="#0b34f2"/>
<rect x="458.5" y="444.6" width="8" height="7.6" fill="#fb2c05"/>
<text x="469.60" y="435.70" font-size="15.6" font-weight="normal" text-anchor="start" fill="#111" >BM</text>
<text x="469.60" y="455.10" font-size="15.6" font-weight="normal" text-anchor="start" fill="#111" >Blood</text>
<text x="384.20" y="567.20" font-size="12.4" font-weight="bold" text-anchor="middle" fill="#111" >BFU-E</text>
<text x="453.00" y="567.20" font-size="12.4" font-weight="bold" text-anchor="middle" fill="#111" >CFU-E</text>
<text transform="translate(305.5,485) rotate(-90)" font-size="11.9" font-weight="bold" text-anchor="middle" fill="#111">Median Fluorescence</text>
<text transform="translate(320,485) rotate(-90)" font-size="11.9" font-weight="bold" text-anchor="middle" fill="#111">Intensity (X10<tspan font-size="8" dy="-4">3</tspan><tspan dy="4">)</tspan></text>
<text x="145.60" y="605.30" font-size="12.8" font-weight="bold" text-anchor="middle" fill="#111" >Recipient GFP<tspan font-size="8" dy="-5">-</tspan></text>
<text x="147.00" y="620.90" font-size="12.8" font-weight="bold" text-anchor="middle" fill="#111" >Ter119<tspan font-size="7.5" dy="-4.5">+</tspan><tspan dy="4.5"> Cells</tspan></text>
<text x="244.80" y="595.90" font-size="12.4" font-weight="bold" text-anchor="start" fill="#111" textLength="174.2" lengthAdjust="spacingAndGlyphs">Engrafted GFP<tspan font-size="7.5" dy="-4.5">+</tspan><tspan dy="4.5"> Ter119</tspan><tspan font-size="7.5" dy="-4.5">+</tspan><tspan dy="4.5"> cells</tspan></text>
<line x1="224.60" y1="602.70" x2="438.00" y2="602.70" stroke="#000" stroke-width="2.8" />
<text x="267.30" y="620.10" font-size="12.6" font-weight="bold" text-anchor="middle" fill="#111" >BM-derived</text>
<text x="388.40" y="619.80" font-size="12.6" font-weight="bold" text-anchor="middle" fill="#111" >PB-derived</text>
<text x="37.50" y="689.90" font-size="12.6" font-weight="bold" text-anchor="middle" fill="#111" >BM</text>
<text x="36.50" y="804.60" font-size="12.7" font-weight="bold" text-anchor="middle" fill="#111" >Spleen</text>
<line x1="70.80" y1="632.00" x2="70.80" y2="823.70" stroke="#000" stroke-width="2" />
<path d="M64.4 640.8 L70.6 629.5 L77.0 640.8" fill="none" stroke="#000" stroke-width="3.2" stroke-linejoin="miter" stroke-linecap="round"/>
<text transform="translate(74.4,847.4) rotate(-90)" font-size="12.4" font-weight="bold" text-anchor="middle" fill="#111">CD71</text>
<text x="108.40" y="876.60" font-size="12.6" font-weight="bold" text-anchor="middle" fill="#111" >FSC</text>
<line x1="128.80" y1="871.50" x2="442.00" y2="871.50" stroke="#000" stroke-width="2" />
<path d="M432 866 L444 871.5 L432 877" fill="none" stroke="#000" stroke-width="2.6"/>
<text x="89.6" y="636.7" font-size="5" text-anchor="end" fill="#555" class="nr">10<tspan font-size="3.4" dy="-2.3">5</tspan></text>
<line x1="92.70" y1="634.80" x2="94.50" y2="634.80" stroke="#555" stroke-width="0.8" />
<text x="89.6" y="660.1" font-size="5" text-anchor="end" fill="#555" class="nr">10<tspan font-size="3.4" dy="-2.3">4</tspan></text>
<line x1="92.70" y1="658.20" x2="94.50" y2="658.20" stroke="#555" stroke-width="0.8" />
<text x="89.6" y="684.9" font-size="5" text-anchor="end" fill="#555" class="nr">10<tspan font-size="3.4" dy="-2.3">3</tspan></text>
<line x1="92.70" y1="683.00" x2="94.50" y2="683.00" stroke="#555" stroke-width="0.8" />
<text x="89.6" y="710.1" font-size="5" text-anchor="end" fill="#555" class="nr">10<tspan font-size="3.4" dy="-2.3">2</tspan></text>
<line x1="92.70" y1="708.20" x2="94.50" y2="708.20" stroke="#555" stroke-width="0.8" />
<text x="90.3" y="721.6" font-size="5.2" text-anchor="end" fill="#555" class="nr">0</text>
<line x1="92.70" y1="719.80" x2="94.50" y2="719.80" stroke="#222" stroke-width="1.2" />
<text x="95.0" y="740.0" font-size="5.2" text-anchor="middle" fill="#444" class="nr">0</text>
<line x1="95.00" y1="730.50" x2="95.00" y2="732.30" stroke="#555" stroke-width="0.8" />
<text x="115.0" y="740.0" font-size="5.2" text-anchor="middle" fill="#444" class="nr">50K</text>
<line x1="115.00" y1="730.50" x2="115.00" y2="732.30" stroke="#555" stroke-width="0.8" />
<text x="135.2" y="740.0" font-size="5.2" text-anchor="middle" fill="#444" class="nr">100K</text>
<line x1="135.20" y1="730.50" x2="135.20" y2="732.30" stroke="#555" stroke-width="0.8" />
<text x="155.5" y="740.0" font-size="5.2" text-anchor="middle" fill="#444" class="nr">150K</text>
<line x1="155.50" y1="730.50" x2="155.50" y2="732.30" stroke="#555" stroke-width="0.8" />
<text x="175.5" y="740.0" font-size="5.2" text-anchor="middle" fill="#444" class="nr">200K</text>
<line x1="175.50" y1="730.50" x2="175.50" y2="732.30" stroke="#555" stroke-width="0.8" />
<text x="195.0" y="740.0" font-size="5.2" text-anchor="middle" fill="#444" class="nr">250K</text>
<line x1="195.00" y1="730.50" x2="195.00" y2="732.30" stroke="#555" stroke-width="0.8" />
<path d="M128.3 681.2h0M113.3 682.8h0M170.3 675.7h0M174.3 661.5h0M198.3 669.7h0M127.6 685.9h0M128.8 703.2h0M130.5 669.4h0M119.9 688.3h0M164.9 667.2h0M188.3 648.3h0M165.1 672.1h0M164.5 659.3h0M171.7 650.3h0M129.5 673.1h0M163.3 661.6h0M126.9 675.1h0M130.8 671.4h0M198.4 675.2h0M114.8 717.3h0M172.2 649.9h0M174.8 647.9h0M169.3 650.5h0M114.5 710.9h0M182.4 647.3h0M181.3 644.1h0M195.5 638.6h0M158.3 659.0h0M161.3 661.2h0M156.3 690.5h0M135.7 677.3h0M153.9 661.7h0M143.3 692.0h0M150.4 667.6h0M191.4 661.6h0M190.1 643.4h0M175.9 655.9h0M172.3 648.9h0M157.3 686.9h0M179.3 662.7h0M128.0 675.4h0M134.6 670.2h0M161.3 658.4h0M170.8 675.6h0M176.6 653.8h0M178.3 649.0h0M149.4 692.3h0M144.8 677.9h0M120.5 717.5h0M119.3 686.4h0M173.1 658.3h0M190.7 654.8h0M144.2 666.3h0M189.5 658.1h0M117.6 684.7h0M199.2 667.6h0M130.0 672.5h0M158.4 681.6h0M184.7 650.8h0M143.7 698.7h0M161.6 675.8h0M166.2 659.0h0M159.5 659.8h0M174.3 648.0h0M141.2 671.2h0M167.2 649.8h0M135.2 686.8h0M156.2 669.7h0M139.0 669.6h0M143.4 688.6h0M129.8 693.2h0M174.5 649.6h0M163.9 652.9h0M116.0 690.0h0M136.6 684.8h0M180.6 646.5h0M132.7 674.0h0M155.7 673.5h0M135.1 709.9h0M181.7 653.8h0M124.7 675.5h0M130.9 676.8h0M187.9 650.5h0M118.4 699.1h0M174.9 656.9h0M179.8 681.9h0M125.3 689.5h0M139.5 672.4h0M124.0 700.7h0M132.6 693.3h0M149.6 669.2h0M145.7 662.8h0M135.0 696.8h0M148.2 671.6h0M156.6 660.9h0M198.0 645.0h0M132.1 698.0h0M112.1 684.4h0M133.1 679.4h0M159.0 653.7h0M121.0 700.5h0M170.9 653.1h0M197.4 643.4h0M137.0 669.2h0M194.2 655.1h0M178.3 661.0h0M113.0 682.7h0M132.0 668.8h0M168.1 665.4h0M191.7 662.2h0M142.8 673.1h0M156.2 670.3h0M196.7 652.0h0M174.1 647.8h0M125.0 693.5h0M168.7 651.2h0M156.4 686.8h0M170.6 671.9h0M194.0 645.2h0M136.6 694.4h0M182.1 645.2h0M198.9 650.7h0M170.8 673.1h0M176.8 666.0h0M134.1 672.1h0M152.9 661.6h0M196.8 671.3h0M174.7 645.7h0M144.4 672.9h0M143.5 673.0h0M116.4 713.6h0M139.7 678.4h0M178.0 678.7h0M164.6 666.9h0M187.7 670.2h0M185.2 662.8h0M117.0 706.4h0M178.2 688.0h0M145.2 674.8h0M170.6 684.8h0M121.3 704.2h0M157.8 668.9h0M173.4 653.4h0M152.1 678.7h0M176.0 656.5h0M113.8 683.7h0M154.7 657.3h0M180.2 656.0h0M132.5 675.3h0M161.8 664.9h0M121.0 686.5h0M117.4 696.6h0M128.2 682.7h0M148.7 678.6h0M141.5 664.7h0M179.8 656.2h0M158.3 663.5h0M133.0 695.4h0M158.0 655.5h0M181.5 684.0h0M179.2 654.4h0M151.9 667.2h0M186.4 676.5h0M179.1 670.1h0M166.5 666.9h0M166.9 661.7h0M159.5 676.0h0M127.0 702.3h0M119.9 679.8h0M155.1 678.2h0M183.7 660.3h0M117.7 696.7h0M155.3 668.4h0M180.1 663.3h0M158.0 678.8h0M177.5 655.0h0M163.1 654.1h0M148.5 670.7h0M191.4 655.1h0M160.5 657.3h0M116.1 701.1h0M198.6 642.0h0M151.5 666.6h0M151.9 661.6h0M148.2 660.4h0M134.8 691.4h0M198.9 643.6h0M182.9 672.0h0M184.9 668.0h0M143.5 683.7h0M145.0 695.7h0M153.7 661.4h0M198.9 652.3h0M142.0 674.0h0M113.8 699.7h0M140.4 676.7h0M161.4 665.6h0M153.3 681.2h0M148.4 669.0h0M152.0 669.7h0M131.1 674.7h0M120.9 693.7h0M174.9 648.5h0M197.2 654.0h0M175.1 679.3h0M155.3 668.4h0M144.7 663.0h0M161.7 653.9h0M184.6 644.8h0M159.1 667.6h0M123.6 708.1h0M167.3 658.0h0M186.7 649.9h0M175.0 653.2h0M149.0 661.8h0M197.1 650.3h0M187.3 667.2h0M184.5 664.4h0M137.5 675.6h0M154.6 669.8h0M138.0 666.8h0M171.4 651.4h0M130.3 694.3h0M188.1 654.9h0M178.8 663.7h0M144.1 666.9h0M144.9 671.1h0M169.0 665.3h0M136.5 702.9h0M181.7 690.3h0M139.2 673.9h0M161.7 657.9h0M112.1 684.8h0M148.3 682.1h0M152.7 655.7h0M158.9 688.2h0M194.5 650.9h0M192.1 677.4h0M152.2 676.8h0M140.7 686.7h0M139.9 666.9h0M113.3 706.5h0M176.8 660.3h0M161.7 659.1h0M171.3 663.6h0M194.2 642.4h0M136.1 697.2h0M141.3 671.0h0M199.3 661.2h0M140.5 693.9h0M197.4 651.1h0M144.3 694.0h0M171.9 684.8h0M198.0 649.6h0M190.8 659.2h0M158.1 656.6h0M125.9 686.7h0M119.9 688.2h0M175.1 682.7h0M114.5 700.0h0M148.4 682.6h0M179.9 666.7h0M184.8 683.2h0M116.4 700.2h0M189.5 665.4h0M133.5 669.3h0M112.3 685.4h0M136.8 685.3h0M173.1 671.7h0M182.9 651.6h0M198.8 659.0h0M162.1 670.8h0M164.0 655.9h0M177.7 658.0h0M134.6 694.7h0M140.5 667.9h0M175.4 652.5h0M160.6 653.6h0M165.9 659.6h0M172.6 651.5h0M166.7 668.5h0M113.5 689.1h0M126.6 681.1h0M174.7 647.0h0M199.7 638.9h0M188.5 641.4h0M164.7 657.1h0M154.9 658.8h0M132.4 673.8h0M164.9 657.0h0M150.6 670.1h0M184.0 657.6h0M136.1 688.8h0M172.5 652.7h0M119.4 684.3h0M133.8 708.0h0M123.3 680.7h0M158.2 665.6h0M134.3 670.3h0M121.2 679.2h0M177.0 645.6h0M179.5 653.4h0M165.4 672.9h0M127.7 680.4h0M137.5 696.6h0M188.9 648.0h0M134.5 677.0h0M143.0 688.1h0M172.1 647.8h0M141.5 666.2h0M148.4 689.3h0M144.1 662.8h0M112.7 705.4h0M120.3 702.8h0M124.3 679.1h0M150.0 684.0h0M164.9 677.8h0M142.2 695.5h0M181.9 681.6h0M156.7 676.0h0M177.5 647.5h0M167.4 653.0h0M130.2 705.1h0M179.1 656.8h0M114.5 690.1h0M178.8 646.9h0M114.5 690.6h0M158.0 660.4h0M125.7 678.3h0M165.4 655.8h0M135.5 692.6h0M158.8 664.1h0M197.2 638.0h0M141.8 697.8h0M116.3 705.9h0M139.4 700.3h0M186.0 674.9h0M137.6 692.8h0M192.3 652.1h0M165.2 653.9h0M187.3 651.3h0M160.7 653.4h0M177.1 665.1h0M120.1 691.6h0M199.8 637.1h0M193.3 639.1h0M175.8 658.0h0M195.8 644.9h0M192.9 642.7h0M161.3 652.4h0M122.3 692.1h0M193.6 663.5h0M190.1 643.3h0M188.9 651.0h0M167.9 652.7h0M187.0 647.5h0M180.0 659.4h0M149.6 687.8h0M189.7 643.0h0M174.1 651.8h0M189.8 649.4h0M139.7 663.2h0M138.0 705.9h0M165.8 676.4h0M130.3 692.1h0M166.9 669.0h0M177.3 650.6h0M113.5 682.0h0M192.4 643.7h0M137.2 670.1h0M185.2 645.7h0M151.1 671.2h0M115.0 718.9h0M164.0 671.4h0M171.9 649.3h0M180.1 650.6h0M187.6 680.3h0M166.4 680.8h0M176.3 649.7h0M152.9 662.3h0" stroke="#999" stroke-width="0.90" stroke-linecap="round" fill="none" opacity="0.7"/>
<path d="M114.8 667.8 L120.8 659.8 L130.8 650.8 L143.8 641.8 L158.8 633.8 L175.8 627.8 L190.8 627.5" fill="none" stroke="#8a8a8a" stroke-width="0.6" opacity="1.0" stroke-linejoin="round"/>
<path d="M115.5 665.6 L121.5 657.6 L131.5 648.6 L144.5 639.6 L159.5 631.6 L176.5 627.5 L191.5 627.5" fill="none" stroke="#8a8a8a" stroke-width="0.6" opacity="1.0" stroke-linejoin="round"/>
<path d="M116.3 663.4 L122.3 655.4 L132.3 646.4 L145.3 637.4 L160.3 629.4 L177.3 627.5 L192.3 627.5" fill="none" stroke="#8a8a8a" stroke-width="0.6" opacity="1.0" stroke-linejoin="round"/>
<path d="M117.1 661.2 L123.1 653.2 L133.1 644.2 L146.1 635.2 L161.1 627.5 L178.1 627.5 L193.1 627.5" fill="none" stroke="#a8a8a8" stroke-width="0.6" opacity="1.0" stroke-linejoin="round"/>
<path d="M117.8 659.0 L123.8 651.0 L133.8 642.0 L146.8 633.0 L161.8 627.5 L178.8 627.5 L193.8 627.5" fill="none" stroke="#a8a8a8" stroke-width="0.6" opacity="1.0" stroke-linejoin="round"/>
<path d="M118.6 656.8 L124.6 648.8 L134.6 639.8 L147.6 630.8 L162.6 627.5 L179.6 627.5 L194.6 627.5" fill="none" stroke="#a8a8a8" stroke-width="0.6" opacity="1.0" stroke-linejoin="round"/>
<path d="M119.4 654.6 L125.4 646.6 L135.4 637.6 L148.4 628.6 L163.4 627.5 L180.4 627.5 L195.4 627.5" fill="none" stroke="#a8a8a8" stroke-width="0.6" opacity="1.0" stroke-linejoin="round"/>
<ellipse cx="140" cy="633" rx="9" ry="3.5" fill="none" stroke="#a0a0a0" stroke-width="0.6" transform="rotate(-20 140 633)"/>
<ellipse cx="140" cy="633" rx="6" ry="2.2" fill="none" stroke="#a0a0a0" stroke-width="0.6" transform="rotate(-20 140 633)"/>
<ellipse cx="137" cy="633.5" rx="3" ry="1.2" fill="none" stroke="#a0a0a0" stroke-width="0.6" transform="rotate(-20 137 633.5)"/>
<ellipse cx="150" cy="631" rx="7" ry="2.5" fill="none" stroke="#a0a0a0" stroke-width="0.6" transform="rotate(-20 150 631)"/>
<ellipse cx="124" cy="637" rx="5" ry="6" fill="none" stroke="#a0a0a0" stroke-width="0.6" transform="rotate(-20 124 637)"/>
<ellipse cx="126" cy="642" rx="3" ry="4" fill="none" stroke="#a0a0a0" stroke-width="0.6" transform="rotate(-20 126 642)"/>
<path d="M114.0 670.0 L120.0 662.0 L130.0 653.0 L143.0 644.0 L158.0 636.0 L175.0 630.0 L190.0 627.5 L200.0 626.5 L200.0 637.0 L193.0 639.0 L180.0 643.5 L164.0 650.0 L150.0 657.0 L137.0 664.5 L127.0 672.0 L118.0 681.0Z" fill="#c4c4d0" opacity="0.5" />
<path d="M161.7 641.2h0M193.3 638.8h0M158.0 642.3h0M185.6 636.2h0M155.3 647.6h0M138.0 661.8h0M131.8 667.5h0M119.6 676.4h0M167.1 645.4h0M129.4 659.6h0M138.9 653.3h0M168.5 646.2h0M163.8 639.9h0M194.5 632.3h0M159.7 644.2h0M159.4 647.3h0M140.2 652.4h0M195.1 632.9h0M140.1 649.2h0M194.8 632.7h0M140.0 654.0h0M146.9 656.5h0M170.6 641.6h0M142.1 649.7h0M139.4 654.7h0M164.5 647.4h0M189.9 635.4h0M133.7 657.6h0M163.4 638.0h0M125.6 664.9h0M189.5 630.1h0M157.5 648.7h0M145.3 651.4h0M137.2 650.7h0M171.1 631.7h0M137.3 656.5h0M136.7 661.5h0M145.0 654.2h0M137.6 655.9h0M136.0 657.6h0M193.3 632.4h0M127.1 661.9h0M185.0 636.2h0M161.0 650.8h0M143.4 659.8h0M119.2 678.3h0M125.2 662.6h0M154.3 652.3h0M148.5 656.5h0M140.0 662.2h0M139.1 647.3h0M150.5 647.2h0M189.9 628.8h0M198.7 631.7h0M135.1 659.8h0M125.2 663.5h0M143.5 654.6h0M137.9 648.9h0M159.9 645.6h0M121.9 672.8h0M163.3 642.2h0M159.0 648.5h0M148.8 644.5h0M128.4 666.8h0M170.6 640.4h0M190.4 636.3h0M146.1 644.0h0M131.7 667.5h0M139.1 651.7h0M176.2 644.6h0M186.9 636.4h0M146.3 646.5h0M161.7 639.2h0M152.6 646.3h0M185.1 629.1h0M158.6 636.2h0M144.9 652.6h0M181.5 636.3h0M162.7 643.0h0M182.8 637.1h0M178.1 633.8h0M146.8 657.1h0M131.8 663.1h0M180.9 634.8h0M164.1 636.1h0M152.3 653.8h0M123.1 660.3h0M126.3 666.9h0M170.1 642.4h0M167.9 641.8h0M171.3 636.1h0M168.3 638.4h0M119.5 671.7h0M123.2 674.7h0M172.7 645.7h0M128.9 670.1h0M177.8 635.4h0M175.8 641.3h0M170.3 640.1h0M129.1 662.5h0M120.5 664.2h0M170.5 641.5h0M181.2 632.6h0M197.2 635.5h0M149.8 655.5h0M151.7 642.8h0M173.5 645.7h0M181.7 642.8h0M120.0 672.1h0M129.5 664.3h0M132.4 662.7h0M196.5 632.8h0M116.5 675.7h0M141.0 646.9h0M167.5 634.6h0M145.2 645.5h0M130.9 664.5h0M157.0 643.7h0M181.4 638.5h0M124.4 670.4h0M188.7 633.9h0M173.6 646.0h0M174.0 635.5h0M168.9 641.4h0M195.8 636.9h0M181.3 629.2h0M129.2 664.5h0M121.1 672.3h0M190.4 638.5h0M145.2 648.7h0M129.8 662.4h0M167.8 644.5h0M181.6 628.9h0M179.3 635.2h0M186.0 633.8h0M138.1 656.2h0M198.6 627.2h0M138.8 653.0h0M137.6 652.7h0M131.0 659.8h0M156.6 641.9h0M183.1 640.8h0M156.1 641.0h0M144.5 654.2h0M140.5 654.6h0M152.3 642.6h0M186.9 633.0h0M193.7 636.6h0M160.8 650.7h0M145.6 655.9h0M145.6 643.8h0M184.6 637.2h0M185.4 628.9h0M197.4 632.6h0M140.3 648.0h0M118.3 675.0h0M169.8 644.5h0M162.5 640.3h0M138.6 656.4h0M164.9 647.7h0M173.6 635.4h0M183.9 628.9h0M121.5 666.5h0M161.0 650.2h0M175.0 639.8h0M155.7 640.9h0M125.2 658.0h0M134.0 652.3h0M129.0 664.6h0M125.2 659.5h0M118.8 675.5h0M180.4 635.8h0M151.9 641.8h0M198.8 633.2h0M159.5 639.4h0M173.8 638.3h0M162.7 645.2h0M192.1 637.1h0M155.7 642.4h0M138.6 647.1h0M120.6 672.0h0M152.2 650.0h0M171.7 643.3h0M123.2 663.2h0M116.6 669.8h0M188.9 635.6h0M186.5 635.1h0M191.2 631.6h0M128.6 670.4h0M148.4 649.0h0M168.0 645.4h0M133.1 667.0h0M159.3 648.9h0M195.2 631.4h0M167.6 644.2h0M131.8 666.5h0M127.4 658.2h0M120.2 667.6h0M139.7 661.3h0M192.2 637.2h0M165.7 647.5h0M145.4 653.4h0M197.3 628.1h0M180.4 632.6h0M173.5 645.5h0M160.4 648.1h0M148.5 655.9h0M193.5 630.9h0M184.5 636.6h0M199.3 629.0h0M154.1 645.5h0M165.8 637.7h0M121.0 677.5h0M119.5 670.8h0M138.6 657.4h0M135.6 656.1h0M123.8 669.5h0M152.5 654.4h0M170.7 640.4h0M145.7 658.0h0M179.4 641.3h0M127.2 656.2h0M170.2 642.7h0M159.6 643.9h0M187.4 633.4h0M140.7 659.6h0M118.7 673.9h0M123.1 674.1h0M178.5 636.7h0M121.8 662.9h0M121.2 667.7h0M140.0 651.7h0M168.5 642.3h0M186.9 631.2h0M185.3 639.6h0M145.1 644.6h0M178.0 639.0h0M187.6 628.7h0M123.2 663.4h0M180.0 636.4h0M150.3 655.1h0M161.3 650.9h0M121.7 661.3h0M122.7 672.6h0M156.5 650.2h0M168.3 643.9h0M136.9 654.5h0M135.6 650.2h0M154.4 641.1h0M185.3 635.1h0M157.9 642.5h0M165.5 644.8h0M192.1 630.0h0M172.8 638.4h0M165.7 640.8h0M196.4 636.5h0M131.6 663.0h0M193.0 637.1h0M146.0 652.3h0M173.4 634.6h0M149.3 641.2h0M135.7 659.6h0M186.0 635.7h0M157.2 649.0h0M186.2 637.2h0M126.4 670.4h0M179.0 636.4h0M148.1 656.4h0M137.8 658.0h0M171.7 631.7h0M148.1 657.4h0M143.2 658.3h0M152.4 652.3h0M180.0 641.9h0M174.6 645.5h0M195.3 635.0h0M140.1 653.5h0M145.2 646.4h0M182.4 630.8h0M116.6 676.0h0M129.3 669.0h0M140.0 653.9h0M143.7 647.4h0M196.6 627.4h0M145.2 656.4h0M166.5 644.7h0M131.8 664.9h0M193.9 635.7h0M132.4 662.1h0M129.3 656.5h0M169.7 639.9h0M165.8 643.5h0M116.9 675.0h0M130.2 660.6h0M115.1 669.0h0M178.1 637.6h0M117.8 666.8h0M125.7 663.7h0M121.2 668.1h0M150.6 649.3h0M165.5 641.2h0M192.8 629.1h0M148.5 649.9h0M171.8 633.8h0M119.2 675.7h0M166.0 637.7h0M162.1 635.4h0M146.4 644.1h0M120.7 662.9h0M187.6 637.9h0M130.4 655.3h0M192.9 627.9h0M170.6 637.8h0M134.7 655.6h0M167.8 634.1h0M183.3 634.8h0M160.4 638.0h0M182.4 641.4h0M168.3 647.6h0M153.6 646.5h0M129.2 658.6h0M125.1 660.0h0M158.5 637.7h0M141.7 646.3h0M161.8 650.3h0M123.5 662.4h0M193.6 631.0h0M189.6 634.3h0M163.0 646.1h0M194.9 630.0h0M133.7 657.0h0M165.4 647.4h0M159.7 640.3h0M192.0 630.6h0M163.2 647.8h0M168.9 639.9h0M183.2 636.9h0M162.4 637.8h0M151.2 642.0h0M179.1 640.0h0M170.2 635.6h0M118.2 666.4h0M155.8 639.7h0M131.2 667.3h0M196.0 632.3h0M190.2 632.1h0M137.7 661.9h0M175.0 630.1h0M172.4 632.4h0M164.4 645.4h0M146.0 659.2h0M159.2 646.4h0M173.8 633.6h0M119.4 676.2h0M165.9 637.0h0M131.7 654.2h0M182.9 632.1h0M180.3 634.5h0M150.7 646.2h0M144.6 648.8h0M153.4 645.6h0M126.0 658.6h0M160.0 638.8h0M162.9 643.9h0M150.6 652.7h0M169.0 645.9h0M151.0 643.4h0M156.7 644.6h0M167.2 641.8h0M153.7 653.4h0M123.9 663.0h0M178.7 637.4h0M132.6 661.9h0M153.2 649.9h0M124.2 665.7h0M157.1 647.5h0M158.0 649.4h0M144.2 659.6h0M186.9 629.9h0M187.9 638.1h0M120.3 678.0h0M149.0 651.3h0M122.8 661.1h0M174.3 636.9h0M196.0 627.8h0M152.1 653.8h0M186.1 633.0h0M158.0 640.8h0M191.2 637.9h0M147.4 648.6h0M133.3 656.5h0M188.9 639.0h0M150.0 655.3h0M133.4 666.3h0M125.8 665.9h0M120.3 674.1h0M152.6 651.1h0M156.5 649.2h0M166.6 647.9h0M193.2 627.4h0M183.9 632.1h0M138.8 649.6h0M192.2 633.7h0M182.8 635.9h0M165.3 635.7h0M187.2 638.0h0M124.9 673.4h0M158.9 651.7h0M147.6 652.7h0M163.4 639.7h0M136.1 651.9h0M120.0 663.2h0M121.5 670.2h0M117.7 678.1h0M147.2 649.9h0M193.7 637.2h0M137.3 657.4h0M181.8 636.4h0M190.6 630.4h0M180.3 629.8h0M177.6 644.1h0M124.8 669.1h0M118.3 675.8h0M137.2 648.1h0M132.0 666.3h0M133.5 654.4h0M130.3 666.1h0M184.0 639.3h0M145.1 655.9h0M140.8 654.3h0M189.6 639.2h0M186.2 640.9h0M185.4 631.7h0M130.8 656.4h0M189.1 636.6h0M143.2 653.4h0M153.1 650.0h0M175.4 636.2h0M158.1 642.1h0M145.0 644.3h0M173.6 644.8h0M193.7 630.0h0M122.5 660.2h0M132.1 654.4h0M124.6 660.7h0M166.9 644.9h0M160.3 638.3h0M155.3 649.8h0M156.6 639.8h0M158.7 639.2h0" stroke="#44445a" stroke-width="0.90" stroke-linecap="round" fill="none" opacity="0.6"/>
<path d="M114.0 670.0 L120.0 662.0 L130.0 653.0 L143.0 644.0 L158.0 636.0 L175.0 630.0 L190.0 627.5 L200.0 626.5 L200.0 632.0 L192.0 634.0 L178.0 638.0 L162.0 644.0 L148.0 651.0 L135.0 659.0 L125.0 667.0 L116.0 676.0Z" fill="#6a6a6a" opacity="0.6" />
<path d="M193.0 629.9h0M197.5 630.0h0M188.9 632.1h0M134.8 659.1h0M118.4 664.4h0M165.6 639.2h0M182.0 631.1h0M152.6 640.5h0M158.4 642.2h0M128.1 662.6h0M135.9 655.8h0M138.2 648.7h0M128.3 662.2h0M146.0 643.1h0M149.1 643.4h0M186.6 631.9h0M190.8 630.4h0M158.2 636.2h0M198.6 630.2h0M175.3 638.6h0M187.5 631.8h0M135.1 657.0h0M169.0 633.4h0M195.2 630.4h0M152.0 639.7h0M169.6 637.0h0M168.9 632.6h0M164.7 640.7h0M173.8 638.0h0M132.5 657.1h0M126.7 660.3h0M146.1 648.0h0M145.2 644.0h0M170.7 633.8h0M165.7 637.8h0M148.2 643.1h0M173.9 638.1h0M170.6 637.8h0M174.9 636.6h0M184.3 633.3h0M144.7 651.4h0M170.9 634.6h0M159.6 637.5h0M120.5 669.0h0M155.8 637.4h0M119.5 663.0h0M153.6 639.1h0M141.1 648.5h0M198.3 629.1h0M174.1 637.0h0M173.9 637.2h0M166.8 638.7h0M176.4 634.0h0M158.4 640.1h0M161.8 642.0h0M121.7 666.1h0M145.2 652.3h0M140.7 650.1h0M199.8 626.9h0M139.8 646.5h0M138.8 650.5h0M123.0 667.1h0M141.9 651.6h0M141.0 648.3h0M180.6 632.1h0M127.6 655.3h0M133.9 658.7h0M138.2 647.7h0M146.1 643.1h0M151.2 643.2h0M159.9 641.1h0M120.3 669.5h0M188.6 628.3h0M120.2 665.0h0M162.8 639.1h0M121.4 663.7h0M170.6 639.9h0M136.4 649.1h0M169.1 632.8h0M117.0 669.8h0M115.2 669.5h0M157.1 644.5h0M143.8 652.7h0M129.9 657.6h0M184.6 632.9h0M142.5 653.0h0M129.8 656.6h0M175.0 635.8h0M190.3 632.0h0M160.7 643.3h0M162.9 642.8h0M120.4 663.4h0M192.8 629.3h0M150.8 644.7h0M161.0 638.9h0M176.1 637.7h0M130.9 659.9h0M182.4 629.1h0M186.5 628.2h0M162.9 636.1h0M143.1 645.0h0M191.2 632.2h0M186.6 631.0h0M186.8 629.5h0M148.4 643.7h0M146.5 643.6h0M144.4 648.1h0M159.8 636.8h0M123.6 667.1h0M135.3 656.4h0M180.3 631.8h0M192.0 627.6h0M153.1 647.2h0M161.3 641.6h0M186.5 628.4h0M193.6 633.2h0M151.8 639.6h0M193.2 630.1h0M190.8 630.9h0M137.5 652.6h0M198.4 629.1h0M199.8 628.7h0M162.4 643.1h0M133.8 650.6h0M116.1 671.2h0M118.2 671.9h0M140.6 649.5h0M134.8 658.8h0M138.5 653.5h0M166.0 633.9h0M123.7 660.7h0M117.1 673.9h0M198.2 627.9h0M152.5 641.8h0M175.3 636.3h0M118.9 670.6h0M158.4 645.6h0M147.5 650.1h0M170.1 633.4h0M168.1 637.6h0M184.2 635.2h0M115.3 671.2h0M159.0 644.8h0M127.8 664.6h0M131.1 656.3h0M130.2 653.9h0M140.4 646.7h0M127.4 663.7h0M130.4 661.6h0M118.4 665.0h0M192.1 630.8h0M118.8 672.6h0M163.3 635.1h0M155.7 645.1h0M189.1 634.7h0M158.7 638.2h0M124.0 659.9h0M178.4 633.6h0M142.7 647.3h0M156.1 643.6h0M129.1 656.5h0M195.7 631.7h0M137.5 654.4h0M118.3 672.7h0M170.7 637.3h0M171.7 633.5h0M157.7 637.9h0M151.2 643.9h0M156.9 639.1h0M146.7 642.6h0M152.1 643.9h0M135.3 654.0h0M158.5 638.0h0M124.9 658.8h0M170.5 633.4h0M167.4 637.2h0M192.5 628.3h0M149.3 647.7h0M134.4 658.8h0M126.1 664.1h0M180.9 631.6h0M180.5 637.2h0M145.6 648.1h0M188.3 628.4h0M133.5 659.1h0M160.5 640.4h0M190.6 633.3h0M186.6 628.4h0M127.9 658.7h0M182.7 634.6h0M149.0 645.7h0M189.0 633.0h0M119.3 671.2h0M178.8 633.7h0M129.3 663.1h0M120.9 669.2h0M130.2 659.7h0M131.2 654.5h0M171.0 638.8h0M171.6 638.7h0M189.6 632.6h0M122.8 661.3h0M142.9 645.0h0M115.8 667.8h0M198.3 632.2h0M126.5 665.2h0M133.5 659.1h0M172.7 634.8h0M129.5 653.5h0M170.0 632.7h0M194.6 631.0h0M191.8 632.6h0M118.3 667.8h0M175.7 635.1h0M171.8 633.7h0M162.1 642.5h0M144.9 652.5h0M149.0 642.0h0M181.9 629.6h0M132.9 658.4h0M170.3 635.1h0M176.5 637.2h0M186.0 631.8h0M170.4 636.9h0M126.0 665.4h0M197.7 630.6h0M182.7 628.9h0M125.4 657.4h0M146.2 651.3h0M165.3 639.3h0M142.8 644.4h0M153.6 645.0h0M139.6 653.5h0M146.4 652.0h0M177.8 630.0h0M189.9 627.5h0M146.2 644.9h0M160.7 642.4h0M155.7 645.8h0M167.7 633.1h0M154.5 642.4h0M125.2 661.2h0M135.7 658.2h0M178.3 635.6h0M116.5 668.1h0M120.6 662.1h0M119.0 666.1h0M155.7 645.8h0M197.6 628.7h0M148.0 646.3h0M184.2 629.0h0M123.3 664.0h0M182.1 630.3h0M130.5 655.5h0M152.0 642.0h0M154.6 641.8h0M180.2 632.1h0M197.0 627.3h0M177.9 636.7h0M129.0 662.5h0M114.7 670.9h0M170.2 637.6h0M172.2 637.5h0M185.5 629.7h0M116.2 672.5h0M151.4 641.0h0M148.7 644.2h0M184.1 635.4h0M150.9 648.0h0M131.3 652.3h0M161.0 640.0h0M148.1 643.3h0M144.2 645.6h0M166.3 636.6h0M128.5 661.0h0M175.6 633.3h0M168.2 638.2h0M137.7 651.4h0M182.3 634.1h0M127.6 655.8h0M163.1 637.2h0M153.4 646.9h0M144.2 644.1h0M119.0 665.5h0M174.6 631.2h0M144.4 652.1h0M122.6 665.1h0M121.7 662.3h0M174.2 631.3h0M145.2 644.0h0M198.5 631.3h0M115.5 673.4h0M172.3 634.4h0M163.7 642.3h0M189.9 634.2h0M132.9 652.5h0M139.0 654.0h0M192.5 629.0h0M134.9 656.6h0M176.6 630.9h0M164.5 634.6h0M166.8 635.1h0M131.9 660.2h0M159.4 638.0h0M195.8 628.7h0M146.0 650.8h0M132.2 652.4h0M143.4 646.9h0M156.5 644.7h0M176.0 636.8h0M136.4 651.4h0M174.3 637.4h0M197.8 627.6h0M137.7 653.7h0M146.6 645.3h0M153.6 641.8h0M154.0 641.6h0M174.7 637.3h0M159.1 643.5h0M137.9 647.6h0M161.6 635.1h0M156.2 638.4h0M122.1 662.5h0M163.5 639.9h0M133.0 655.8h0M147.5 649.3h0M169.3 637.1h0M146.1 642.9h0M165.8 637.0h0M122.0 662.7h0M182.1 629.6h0M173.8 638.9h0M190.5 632.7h0M170.0 632.8h0M173.5 632.5h0M128.4 662.0h0M148.4 644.9h0M163.1 638.0h0M157.8 639.2h0M153.1 644.3h0M175.1 631.1h0M158.8 637.4h0M117.5 665.6h0M146.0 645.8h0M117.8 669.2h0M132.0 660.6h0M115.9 675.3h0M134.7 657.1h0M162.5 642.5h0M199.4 631.6h0" stroke="#000" stroke-width="1.00" stroke-linecap="round" fill="none" opacity="0.55"/>
<path d="M114.0 670.0 L120.0 662.0 L130.0 653.0 L143.0 644.0 L158.0 636.0 L175.0 630.0 L190.0 627.5 L200.0 626.5" fill="none" stroke="#0a0a0a" stroke-width="1.8" opacity="1.0" stroke-linejoin="round"/>
<path d="M97.0 628.0 L126.0 627.0 L124.0 640.0 L120.0 652.0 L118.0 662.0 L115.0 672.0 L115.0 729.0 L97.0 729.0Z" fill="#50506a" opacity="0.8" />
<path d="M103.1 641.2h0M113.7 728.2h0M122.7 629.8h0M112.1 652.9h0M112.3 631.6h0M109.8 692.8h0M111.2 643.2h0M98.7 692.9h0M115.4 667.0h0M113.8 661.8h0M99.0 672.3h0M111.8 676.8h0M119.4 654.0h0M102.6 676.5h0M109.6 631.4h0M112.3 657.1h0M98.8 653.1h0M104.0 668.7h0M112.5 718.9h0M111.5 717.8h0M115.0 646.8h0M103.9 717.6h0M116.8 661.9h0M118.5 640.1h0M98.4 680.9h0M102.2 654.1h0M108.7 727.1h0M112.1 645.2h0M115.1 627.9h0M98.3 726.1h0M97.4 680.2h0M112.7 646.7h0M106.2 628.8h0M111.5 712.0h0M103.7 655.5h0M97.1 667.1h0M122.1 627.4h0M116.2 631.0h0M100.5 705.4h0M111.6 728.1h0M102.7 669.6h0M110.3 728.4h0M112.4 671.2h0M118.5 633.9h0M114.2 723.9h0M110.9 673.3h0M110.2 652.8h0M105.2 628.2h0M101.7 690.7h0M108.7 632.9h0M103.8 693.7h0M97.1 661.3h0M110.8 660.9h0M109.1 628.6h0M118.3 659.6h0M99.4 692.7h0M120.6 630.5h0M115.6 653.2h0M113.8 708.4h0M100.1 719.6h0M112.3 654.1h0M106.2 684.0h0M103.0 633.2h0M110.7 723.3h0M101.5 676.4h0M111.8 716.1h0M101.5 631.9h0M98.2 645.3h0M105.5 717.0h0M112.7 657.1h0M118.8 649.9h0M105.4 636.3h0M108.8 628.5h0M108.5 667.8h0M107.4 709.9h0M108.4 671.6h0M102.4 631.2h0M105.6 698.1h0M109.5 707.6h0M116.0 649.3h0M114.9 700.6h0M108.8 650.4h0M113.5 728.8h0M113.0 685.4h0M115.4 653.9h0M110.3 668.7h0M122.4 644.1h0M100.5 726.5h0M102.7 678.4h0M112.6 713.8h0M104.9 686.2h0M104.6 702.2h0M108.4 702.9h0M108.9 662.7h0M107.9 706.4h0M124.1 638.6h0M114.0 663.3h0M102.7 649.6h0M97.5 679.1h0M103.4 697.1h0M102.0 661.8h0M109.1 681.5h0M104.3 679.5h0M111.0 725.4h0M108.1 710.1h0M121.9 629.7h0M104.7 678.0h0M112.3 661.5h0M118.5 635.7h0M107.3 695.4h0M108.3 661.3h0M113.9 677.3h0M99.4 643.1h0M108.2 630.3h0M105.5 692.3h0M111.9 667.9h0M102.8 631.6h0M106.5 628.4h0M106.6 690.4h0M112.1 631.6h0M98.6 635.2h0M100.6 677.6h0M100.9 692.1h0M105.6 705.2h0M109.3 721.6h0M105.3 715.5h0M114.8 659.6h0M122.8 630.1h0M116.7 632.7h0M118.1 637.3h0M101.5 636.4h0M111.7 681.3h0M104.4 722.9h0M107.4 652.0h0M111.8 705.2h0M100.9 654.8h0M116.5 644.9h0M97.9 652.0h0M100.5 653.3h0M112.2 630.6h0M116.1 667.0h0M121.7 632.4h0M97.9 673.3h0M125.2 631.0h0M102.3 633.6h0M103.9 634.6h0M102.7 710.3h0M108.6 645.1h0M113.1 688.4h0M102.2 722.9h0M100.0 636.6h0M117.3 631.4h0M110.7 653.2h0M115.1 639.7h0M104.0 721.5h0M117.4 646.7h0M110.3 697.0h0M99.8 679.9h0M101.4 657.1h0M98.2 710.4h0M104.2 701.1h0M102.3 701.1h0M102.1 713.8h0M113.8 628.9h0M119.1 652.6h0M103.4 717.9h0M98.0 631.2h0M112.8 680.3h0M112.5 650.2h0M113.9 709.0h0M103.5 644.9h0M100.2 680.6h0M102.9 645.5h0M106.1 718.9h0M110.7 681.5h0M103.4 659.5h0M98.9 712.5h0M114.3 674.8h0M103.9 670.5h0M105.0 659.6h0M114.5 653.3h0M104.2 685.0h0M105.8 688.0h0M110.6 682.1h0M113.7 687.8h0M122.3 641.9h0M106.0 636.9h0M122.4 633.5h0M110.2 641.7h0M113.5 664.2h0M114.7 647.7h0M100.0 696.7h0M114.3 723.9h0M105.1 716.7h0M119.6 629.9h0M103.4 716.0h0M114.8 677.9h0M112.2 724.2h0M102.7 656.1h0M111.1 654.1h0M97.0 639.3h0M114.2 670.2h0M113.2 722.2h0M102.9 700.2h0M104.0 648.2h0M108.6 685.0h0M116.7 632.7h0M105.5 686.6h0M98.2 685.0h0M99.4 683.3h0M105.6 703.0h0M111.5 662.2h0M97.0 653.6h0M98.4 646.9h0M103.5 664.3h0M99.5 679.8h0M99.2 630.5h0M109.9 669.2h0M117.4 651.9h0M103.0 689.6h0M102.1 657.9h0M114.3 701.3h0M108.9 641.2h0M106.0 636.5h0M100.7 672.6h0M97.1 666.1h0M107.0 693.8h0M112.2 631.2h0M114.5 640.0h0M117.4 648.8h0M106.1 696.6h0M102.3 719.8h0M98.3 723.5h0M103.2 667.7h0M100.1 681.9h0M110.5 716.5h0M102.7 724.0h0M107.4 656.2h0M98.1 630.0h0M97.4 677.9h0M104.9 710.2h0M108.4 692.6h0M100.4 678.0h0M116.5 628.7h0M113.1 696.9h0M97.8 698.4h0M118.3 652.7h0M103.1 690.7h0M119.2 631.0h0M115.7 660.8h0M105.2 663.8h0M118.7 653.1h0M107.2 671.2h0M111.2 663.0h0M113.0 668.9h0M107.3 663.6h0M97.1 686.4h0M105.9 696.6h0M97.3 663.9h0M98.9 635.9h0M112.3 635.0h0M97.5 666.0h0M112.1 685.0h0M114.9 713.2h0M98.7 646.6h0M108.7 651.2h0M108.1 670.7h0M107.7 632.5h0M115.1 655.8h0M103.2 644.7h0M118.5 630.6h0M111.6 669.1h0M114.7 669.5h0M101.2 726.0h0M104.2 669.1h0M106.5 670.9h0M109.2 665.4h0M125.5 629.8h0M110.1 630.1h0M104.7 710.0h0M101.3 699.1h0M101.6 712.1h0M114.6 703.3h0M107.4 690.9h0M112.7 666.4h0M109.9 692.6h0M98.5 659.0h0M106.2 671.1h0M100.5 654.6h0M119.4 647.1h0M114.8 713.9h0M107.2 660.8h0M98.3 700.3h0M100.3 717.1h0M100.2 710.0h0M110.8 680.7h0M110.5 715.7h0M107.3 693.7h0M111.9 673.7h0M119.9 633.1h0M99.6 632.2h0M122.9 633.3h0M109.6 629.4h0M120.5 632.4h0M104.9 696.9h0M116.8 635.3h0M114.1 684.5h0M105.7 663.4h0M118.2 645.8h0M109.0 714.2h0M103.6 660.8h0M103.7 714.7h0M102.3 722.0h0M101.2 634.4h0M110.2 657.7h0M100.6 656.0h0M112.1 690.9h0M109.6 708.7h0M118.3 655.4h0M103.5 717.4h0M118.8 643.8h0M108.5 658.8h0M114.4 667.5h0M105.1 655.0h0M120.3 638.4h0M102.8 690.6h0M108.6 663.8h0M102.6 638.6h0M107.6 695.4h0M101.1 685.0h0M100.8 659.0h0M119.4 643.0h0M111.9 630.1h0M112.3 644.4h0M106.0 668.5h0M99.9 629.0h0M115.8 653.0h0M107.1 697.3h0M116.5 641.6h0M102.0 649.0h0M98.6 629.9h0M110.7 641.1h0M111.9 661.7h0M100.6 681.5h0M98.7 721.0h0M105.3 670.3h0M100.3 698.0h0M118.5 637.3h0M113.2 660.3h0M110.3 716.4h0M113.5 673.5h0M115.1 670.3h0M109.1 659.4h0M112.1 663.0h0M99.2 698.6h0M100.1 668.2h0M101.9 631.4h0M104.3 675.4h0M106.1 658.4h0M118.8 654.9h0M112.9 663.4h0M112.8 686.1h0M97.3 716.3h0M112.1 709.1h0M103.0 631.2h0M122.5 633.7h0M120.8 648.1h0M108.6 684.1h0M106.7 662.7h0M124.2 631.4h0M106.6 727.8h0M102.7 672.6h0M107.7 704.3h0M108.2 639.7h0M113.4 710.3h0M110.6 727.6h0M115.6 634.7h0M107.5 635.0h0M109.8 635.1h0M101.4 696.2h0M105.4 680.8h0M121.5 638.9h0M105.5 647.0h0M111.4 701.1h0M111.2 695.9h0M111.5 723.4h0M100.0 662.7h0M98.6 634.7h0M110.1 721.8h0M98.9 719.7h0M109.6 675.4h0M104.3 646.6h0M101.6 707.5h0M110.8 709.4h0M112.6 660.0h0M98.0 633.8h0M99.0 633.7h0M112.3 629.4h0M113.6 663.3h0M100.2 652.6h0M122.2 635.3h0M110.1 694.3h0M106.4 715.3h0M102.5 674.5h0M98.4 657.9h0M113.6 676.6h0M114.6 628.6h0M97.7 706.4h0M110.3 645.8h0M109.0 680.2h0M98.1 688.2h0M108.4 661.4h0M112.3 647.9h0M105.2 672.2h0M99.5 717.9h0M114.2 654.7h0M120.1 647.8h0M114.0 725.8h0M98.3 633.4h0M105.9 657.0h0M113.5 692.6h0M123.2 634.7h0M110.3 714.5h0M111.0 639.8h0M109.2 641.3h0M97.2 657.3h0M101.0 665.0h0M114.8 728.9h0M113.7 675.6h0M103.7 678.4h0M112.4 656.2h0M116.9 633.9h0M110.0 659.3h0M102.7 662.6h0M115.2 666.5h0M102.8 649.8h0M99.9 677.4h0M114.7 701.3h0M101.2 683.6h0M116.5 645.1h0M106.2 715.5h0M115.0 707.0h0M104.9 627.7h0M114.9 720.1h0M112.3 675.0h0M119.3 645.9h0M103.6 709.6h0M112.2 643.4h0M123.1 640.7h0M98.0 665.5h0M106.0 718.5h0M106.6 689.3h0M123.7 632.8h0M101.9 700.8h0M115.3 641.7h0M101.4 640.7h0M103.7 676.4h0M100.1 646.7h0M114.9 644.9h0M114.2 681.8h0M98.8 631.1h0M107.2 720.7h0M106.9 719.7h0M110.5 713.6h0M104.4 640.1h0M113.2 680.6h0M117.8 649.4h0M110.3 645.4h0M105.3 643.8h0M109.9 711.4h0M100.7 726.0h0M102.8 691.7h0M113.4 679.0h0M102.8 682.3h0M103.7 632.5h0M103.4 657.5h0M114.7 713.2h0M102.7 684.4h0M101.9 645.7h0M112.6 643.9h0M110.8 687.0h0M104.2 720.5h0M111.1 630.6h0M100.5 645.0h0M114.2 707.5h0M101.4 659.2h0M102.8 676.7h0M116.3 638.6h0M97.1 692.2h0M102.9 718.6h0M113.8 649.1h0M105.6 665.0h0M107.7 645.5h0M107.2 683.1h0M100.1 645.1h0M108.9 636.0h0M112.3 643.2h0M98.3 680.7h0M110.9 687.6h0M108.4 650.9h0" stroke="#c0c0d0" stroke-width="1.00" stroke-linecap="round" fill="none" opacity="0.5"/>
<path d="M113.0 640.0 L124.0 634.0 L122.0 650.0 L118.0 662.0 L115.0 672.0 L113.0 672.0Z" fill="#222" opacity="0.7" />
<path d="M98.0 634.0 L105.0 629.5 L135.0 627.8" fill="none" stroke="#777" stroke-width="0.7" opacity="1.0" stroke-linejoin="round"/>
<path d="M98.0 635.8 L105.0 631.3 L132.0 629.3" fill="none" stroke="#777" stroke-width="0.7" opacity="1.0" stroke-linejoin="round"/>
<path d="M98.0 637.6 L105.0 633.1 L129.0 630.8" fill="none" stroke="#777" stroke-width="0.7" opacity="1.0" stroke-linejoin="round"/>
<line x1="100.60" y1="636.00" x2="100.60" y2="729.00" stroke="#080810" stroke-width="2.8" />
<line x1="103.40" y1="640.00" x2="103.40" y2="728.00" stroke="#30304a" stroke-width="1.0" />
<line x1="108.20" y1="634.00" x2="108.20" y2="728.00" stroke="#080810" stroke-width="3.0" />
<line x1="112.80" y1="636.00" x2="112.80" y2="710.00" stroke="#1a1a40" stroke-width="2.2" />
<line x1="117.00" y1="640.00" x2="117.00" y2="666.00" stroke="#111" stroke-width="2.0" />
<line x1="120.50" y1="632.00" x2="120.50" y2="652.00" stroke="#333" stroke-width="1.4" />
<line x1="105.30" y1="645.00" x2="105.30" y2="720.00" stroke="#9a9ab0" stroke-width="0.8" />
<line x1="110.60" y1="650.00" x2="110.60" y2="725.00" stroke="#9a9ab0" stroke-width="0.8" />
<path d="M126.1 721.4h0M114.8 723.2h0M123.7 722.9h0M120.9 693.8h0M126.1 715.8h0M116.4 697.0h0M115.6 700.8h0M127.9 703.3h0M120.6 721.5h0M119.3 696.8h0M120.2 699.1h0M117.1 711.2h0M113.1 692.1h0M113.9 696.8h0M120.1 692.5h0M113.1 710.4h0M127.8 689.1h0M119.3 693.3h0M121.2 706.7h0M125.5 690.1h0M119.8 688.3h0M121.9 695.6h0M122.5 709.5h0M117.1 726.7h0M124.8 724.3h0M124.0 695.2h0M118.9 706.5h0M124.4 708.3h0M127.2 707.3h0M113.1 722.4h0M122.6 726.5h0M124.6 703.9h0M120.1 690.3h0M119.9 721.0h0M119.1 700.9h0M127.4 692.1h0M114.3 688.8h0M122.9 712.7h0M126.2 710.8h0M127.2 684.8h0M115.5 717.0h0M118.3 718.3h0M114.3 695.9h0M115.5 694.8h0M115.8 696.1h0M122.1 727.0h0M125.2 721.7h0M113.3 697.7h0M121.0 717.6h0M127.3 687.5h0M122.5 705.3h0M123.2 701.6h0M114.2 695.0h0M127.6 691.9h0M127.2 726.3h0M120.2 690.5h0M126.6 699.8h0M116.3 689.3h0M118.6 720.1h0M126.2 689.6h0M123.5 696.1h0M124.7 694.4h0M126.4 691.3h0M116.2 688.5h0M118.0 725.1h0M123.3 711.6h0M119.1 725.4h0M119.4 722.5h0M115.4 709.4h0M118.7 716.2h0M115.1 687.2h0M123.5 686.1h0M117.0 716.9h0M124.9 717.0h0M116.6 727.3h0M117.2 717.9h0M124.2 687.1h0M117.4 707.4h0M127.2 702.8h0M117.5 726.5h0M127.6 687.8h0M125.9 714.6h0M120.8 703.2h0M117.7 696.2h0M116.5 684.5h0M113.9 695.4h0M115.0 706.0h0M115.4 702.7h0M117.5 690.6h0M120.0 716.4h0M117.0 699.7h0M117.5 702.8h0M115.9 692.3h0M118.5 698.8h0M124.4 701.3h0M125.3 692.9h0M122.3 699.5h0M115.1 709.4h0M117.8 704.8h0M124.0 697.2h0M121.9 724.5h0M126.4 686.3h0M123.1 713.0h0M125.7 718.3h0M114.0 725.1h0M121.1 723.0h0M126.7 693.1h0M114.2 687.4h0M125.8 699.1h0M116.8 689.6h0M116.0 711.7h0M116.3 711.5h0M123.8 691.8h0M117.0 699.0h0M119.8 708.9h0M121.4 713.9h0M120.3 703.9h0M120.2 705.6h0M113.9 716.6h0M117.8 726.6h0M121.6 690.7h0M127.8 725.5h0M121.8 684.0h0M128.0 722.6h0M119.6 706.7h0M126.2 685.2h0M114.9 687.7h0M124.3 692.4h0M127.1 696.9h0M116.8 726.5h0M119.7 692.6h0M122.9 704.3h0M122.9 692.2h0M120.1 691.3h0M115.6 692.2h0M125.5 695.2h0M114.3 697.3h0M118.9 714.5h0M123.9 708.6h0M121.0 708.3h0M119.8 693.1h0M113.4 698.2h0M123.1 686.1h0M118.1 727.6h0M119.3 693.6h0M121.3 685.7h0M115.4 707.4h0M122.9 700.2h0M119.1 691.5h0M114.2 703.8h0M124.1 692.5h0M123.9 720.4h0M127.0 690.0h0M127.7 686.2h0M121.0 715.1h0M119.7 695.2h0M122.5 686.9h0M115.8 719.1h0M118.2 704.4h0M125.7 705.7h0M120.2 725.1h0M121.0 705.2h0M119.3 707.9h0M115.0 727.8h0M114.0 691.9h0M125.7 713.7h0M127.9 715.0h0M125.5 700.0h0M124.7 705.3h0M113.1 697.0h0M119.6 722.6h0M126.8 727.7h0M120.3 710.3h0M125.8 692.3h0M114.1 700.4h0M121.9 697.9h0M114.9 706.5h0M121.0 723.3h0M127.2 726.4h0M113.8 689.1h0M119.2 686.0h0M119.6 701.5h0M126.7 725.5h0M127.0 699.5h0M116.1 705.1h0M122.6 685.3h0M114.0 695.8h0M118.9 695.8h0M122.5 713.9h0M116.7 688.9h0M121.3 710.6h0M125.1 695.7h0M117.8 712.8h0M114.1 695.8h0M122.3 707.6h0M125.8 702.1h0M118.8 688.8h0M126.4 723.6h0M113.9 726.7h0M121.3 700.1h0M118.8 690.2h0M121.5 707.4h0M123.4 700.5h0M114.2 718.1h0M120.4 710.7h0M124.6 699.8h0M127.0 717.5h0M125.7 704.8h0M118.6 691.2h0M125.3 722.1h0M121.9 720.5h0M120.3 726.6h0M114.3 725.1h0M124.3 688.1h0M123.8 711.9h0M125.1 691.1h0M115.2 703.6h0M121.9 701.1h0M127.1 702.6h0M118.6 698.4h0M118.0 720.4h0M124.8 686.6h0M115.1 699.8h0M119.4 691.5h0M120.5 704.5h0M125.7 705.1h0M113.7 686.2h0M125.8 724.9h0M122.8 714.5h0M117.2 709.9h0M113.4 724.6h0M122.2 725.5h0M123.0 726.6h0M126.3 702.2h0M115.7 716.8h0M115.2 688.5h0M120.8 722.4h0M124.7 721.0h0M126.7 723.1h0M114.9 701.3h0M117.4 709.5h0M119.3 699.4h0M122.3 684.6h0M120.8 719.9h0M114.9 688.6h0M123.5 713.6h0M119.3 723.6h0M124.9 691.2h0M122.7 703.9h0M123.3 691.0h0M122.1 725.4h0M124.8 689.1h0M117.5 686.2h0M123.6 721.0h0M121.5 685.9h0M115.2 720.1h0M121.5 703.0h0M115.8 698.3h0M122.0 726.9h0M118.5 686.4h0M124.1 688.4h0M117.4 725.8h0M126.5 687.8h0M122.5 699.8h0M119.6 716.9h0M115.4 698.7h0M113.8 713.3h0M117.4 687.1h0M113.3 711.8h0M119.0 709.4h0M119.5 687.3h0M121.2 705.1h0M117.0 696.7h0M114.5 719.0h0M124.9 703.8h0M120.7 696.5h0M118.3 714.5h0M126.0 688.2h0M127.9 696.5h0M123.8 713.3h0M117.6 719.9h0M126.9 712.2h0M124.5 723.8h0M126.0 689.0h0M113.6 690.0h0M115.2 686.7h0M121.1 702.4h0M114.5 690.7h0M116.9 727.3h0M122.4 715.5h0M126.7 726.7h0M116.4 722.7h0M122.2 716.4h0M115.7 712.5h0M122.4 715.8h0M115.4 687.7h0M119.9 725.3h0M117.6 727.1h0M116.4 710.0h0M123.4 695.1h0" stroke="#777" stroke-width="1.00" stroke-linecap="round" fill="none" opacity="0.7"/>
<line x1="98.00" y1="729.00" x2="120.00" y2="729.00" stroke="#111" stroke-width="1.6" />
<text x="174.0" y="651.3" font-size="13" fill="#111">R1</text>
<text x="141.9" y="664.2" font-size="13" fill="#111">R2</text>
<text x="125.4" y="670.8" font-size="13" fill="#111">R3</text>
<rect x="112.6" y="672.8" width="20" height="12.6" fill="#fff"/>
<text x="115.9" y="684.1" font-size="13" fill="#111">R4</text>
<text x="118.4" y="726.6" font-size="13" fill="#111">R5</text>
<path d="M99.2 633.3 L111.7 629.8 L111.9 676.1 L98.9 676.1Z" fill="none" stroke="#5a5ac0" stroke-width="0.75"/>
<path d="M110.6 630.2 L121.0 628.1 L123.6 656.7 L111.9 668.3Z" fill="none" stroke="#5a5ac0" stroke-width="0.75"/>
<path d="M121.0 628.1 L138.6 626.8 L143.8 654.1 L123.6 656.7Z" fill="none" stroke="#5a5ac0" stroke-width="0.75"/>
<path d="M138.6 626.8 L196.2 625.5 L193.2 636.3 L143.8 654.1Z" fill="none" stroke="#5a5ac0" stroke-width="0.75"/>
<path d="M98.9 678.9 L115.2 679.2 L116.9 731.0 L99.4 731.0Z" fill="none" stroke="#5a5ac0" stroke-width="0.75"/>
<rect x="94.5" y="625.0" width="106.0" height="105.5" fill="none" stroke="#999" stroke-width="1"/>
<text x="210.5" y="636.5" font-size="5" text-anchor="end" fill="#555" class="nr">10<tspan font-size="3.4" dy="-2.3">5</tspan></text>
<line x1="213.60" y1="634.60" x2="215.40" y2="634.60" stroke="#555" stroke-width="0.8" />
<text x="210.5" y="659.9" font-size="5" text-anchor="end" fill="#555" class="nr">10<tspan font-size="3.4" dy="-2.3">4</tspan></text>
<line x1="213.60" y1="658.00" x2="215.40" y2="658.00" stroke="#555" stroke-width="0.8" />
<text x="210.5" y="684.7" font-size="5" text-anchor="end" fill="#555" class="nr">10<tspan font-size="3.4" dy="-2.3">3</tspan></text>
<line x1="213.60" y1="682.80" x2="215.40" y2="682.80" stroke="#555" stroke-width="0.8" />
<text x="210.5" y="709.9" font-size="5" text-anchor="end" fill="#555" class="nr">10<tspan font-size="3.4" dy="-2.3">2</tspan></text>
<line x1="213.60" y1="708.00" x2="215.40" y2="708.00" stroke="#555" stroke-width="0.8" />
<text x="211.2" y="721.4" font-size="5.2" text-anchor="end" fill="#555" class="nr">0</text>
<line x1="213.60" y1="719.60" x2="215.40" y2="719.60" stroke="#222" stroke-width="1.2" />
<text x="215.9" y="740.8" font-size="5.2" text-anchor="middle" fill="#444" class="nr">0</text>
<line x1="215.90" y1="731.30" x2="215.90" y2="733.10" stroke="#555" stroke-width="0.8" />
<text x="235.9" y="740.8" font-size="5.2" text-anchor="middle" fill="#444" class="nr">50K</text>
<line x1="235.90" y1="731.30" x2="235.90" y2="733.10" stroke="#555" stroke-width="0.8" />
<text x="256.1" y="740.8" font-size="5.2" text-anchor="middle" fill="#444" class="nr">100K</text>
<line x1="256.10" y1="731.30" x2="256.10" y2="733.10" stroke="#555" stroke-width="0.8" />
<text x="276.4" y="740.8" font-size="5.2" text-anchor="middle" fill="#444" class="nr">150K</text>
<line x1="276.40" y1="731.30" x2="276.40" y2="733.10" stroke="#555" stroke-width="0.8" />
<text x="296.4" y="740.8" font-size="5.2" text-anchor="middle" fill="#444" class="nr">200K</text>
<line x1="296.40" y1="731.30" x2="296.40" y2="733.10" stroke="#555" stroke-width="0.8" />
<text x="315.9" y="740.8" font-size="5.2" text-anchor="middle" fill="#444" class="nr">250K</text>
<line x1="315.90" y1="731.30" x2="315.90" y2="733.10" stroke="#555" stroke-width="0.8" />
<path d="M220.1 633.1 L232.6 629.6 L232.8 675.9 L219.8 675.9Z" fill="none" stroke="#555" stroke-width="0.8"/>
<path d="M231.5 630.0 L241.9 627.9 L244.5 656.5 L232.8 668.1Z" fill="none" stroke="#555" stroke-width="0.8"/>
<path d="M241.9 627.9 L259.5 626.6 L264.7 653.9 L244.5 656.5Z" fill="none" stroke="#555" stroke-width="0.8"/>
<path d="M259.5 626.6 L317.1 625.3 L314.1 636.1 L264.7 653.9Z" fill="none" stroke="#555" stroke-width="0.8"/>
<path d="M219.8 678.7 L236.1 679.0 L237.8 730.8 L220.3 730.8Z" fill="none" stroke="#555" stroke-width="0.8"/>
<rect x="215.4" y="624.8" width="106.2" height="106.5" fill="none" stroke="#999" stroke-width="1"/>
<text x="280.7" y="701.6" font-size="13" font-weight="bold" text-anchor="middle"><tspan fill="#111">6, </tspan><tspan fill="#c8202a" stroke="#c8202a">15</tspan></text>
<text x="332.8" y="636.9" font-size="5" text-anchor="end" fill="#555" class="nr">10<tspan font-size="3.4" dy="-2.3">5</tspan></text>
<line x1="335.90" y1="635.00" x2="337.70" y2="635.00" stroke="#555" stroke-width="0.8" />
<text x="332.8" y="660.3" font-size="5" text-anchor="end" fill="#555" class="nr">10<tspan font-size="3.4" dy="-2.3">4</tspan></text>
<line x1="335.90" y1="658.40" x2="337.70" y2="658.40" stroke="#555" stroke-width="0.8" />
<text x="332.8" y="685.1" font-size="5" text-anchor="end" fill="#555" class="nr">10<tspan font-size="3.4" dy="-2.3">3</tspan></text>
<line x1="335.90" y1="683.20" x2="337.70" y2="683.20" stroke="#555" stroke-width="0.8" />
<text x="332.8" y="710.3" font-size="5" text-anchor="end" fill="#555" class="nr">10<tspan font-size="3.4" dy="-2.3">2</tspan></text>
<line x1="335.90" y1="708.40" x2="337.70" y2="708.40" stroke="#555" stroke-width="0.8" />
<text x="333.5" y="721.8" font-size="5.2" text-anchor="end" fill="#555" class="nr">0</text>
<line x1="335.90" y1="720.00" x2="337.70" y2="720.00" stroke="#222" stroke-width="1.2" />
<text x="338.2" y="740.1" font-size="5.2" text-anchor="middle" fill="#444" class="nr">0</text>
<line x1="338.20" y1="730.60" x2="338.20" y2="732.40" stroke="#555" stroke-width="0.8" />
<text x="358.2" y="740.1" font-size="5.2" text-anchor="middle" fill="#444" class="nr">50K</text>
<line x1="358.20" y1="730.60" x2="358.20" y2="732.40" stroke="#555" stroke-width="0.8" />
<text x="378.4" y="740.1" font-size="5.2" text-anchor="middle" fill="#444" class="nr">100K</text>
<line x1="378.40" y1="730.60" x2="378.40" y2="732.40" stroke="#555" stroke-width="0.8" />
<text x="398.7" y="740.1" font-size="5.2" text-anchor="middle" fill="#444" class="nr">150K</text>
<line x1="398.70" y1="730.60" x2="398.70" y2="732.40" stroke="#555" stroke-width="0.8" />
<text x="418.7" y="740.1" font-size="5.2" text-anchor="middle" fill="#444" class="nr">200K</text>
<line x1="418.70" y1="730.60" x2="418.70" y2="732.40" stroke="#555" stroke-width="0.8" />
<text x="438.2" y="740.1" font-size="5.2" text-anchor="middle" fill="#444" class="nr">250K</text>
<line x1="438.20" y1="730.60" x2="438.20" y2="732.40" stroke="#555" stroke-width="0.8" />
<path d="M342.4 633.5 L354.9 630.0 L355.1 676.3 L342.1 676.3Z" fill="none" stroke="#555" stroke-width="0.8"/>
<path d="M353.8 630.4 L364.2 628.3 L366.8 656.9 L355.1 668.5Z" fill="none" stroke="#555" stroke-width="0.8"/>
<path d="M364.2 628.3 L381.8 627.0 L387.0 654.3 L366.8 656.9Z" fill="none" stroke="#555" stroke-width="0.8"/>
<path d="M381.8 627.0 L439.4 625.7 L436.4 636.5 L387.0 654.3Z" fill="none" stroke="#555" stroke-width="0.8"/>
<path d="M342.1 679.1 L358.4 679.4 L360.1 731.2 L342.6 731.2Z" fill="none" stroke="#555" stroke-width="0.8"/>
<rect x="337.7" y="625.2" width="105.7" height="105.4" fill="none" stroke="#999" stroke-width="1"/>
<text x="405.6" y="701.6" font-size="13" font-weight="bold" text-anchor="middle"><tspan fill="#111">0, </tspan><tspan fill="#c8202a" stroke="#c8202a">0</tspan></text>
<text x="87.3" y="756.0" font-size="5" text-anchor="end" fill="#555" class="nr">10<tspan font-size="3.4" dy="-2.3">5</tspan></text>
<line x1="90.40" y1="754.10" x2="92.20" y2="754.10" stroke="#555" stroke-width="0.8" />
<text x="87.3" y="779.4" font-size="5" text-anchor="end" fill="#555" class="nr">10<tspan font-size="3.4" dy="-2.3">4</tspan></text>
<line x1="90.40" y1="777.50" x2="92.20" y2="777.50" stroke="#555" stroke-width="0.8" />
<text x="87.3" y="804.2" font-size="5" text-anchor="end" fill="#555" class="nr">10<tspan font-size="3.4" dy="-2.3">3</tspan></text>
<line x1="90.40" y1="802.30" x2="92.20" y2="802.30" stroke="#555" stroke-width="0.8" />
<text x="87.3" y="829.4" font-size="5" text-anchor="end" fill="#555" class="nr">10<tspan font-size="3.4" dy="-2.3">2</tspan></text>
<line x1="90.40" y1="827.50" x2="92.20" y2="827.50" stroke="#555" stroke-width="0.8" />
<text x="88.0" y="840.9" font-size="5.2" text-anchor="end" fill="#555" class="nr">0</text>
<line x1="90.40" y1="839.10" x2="92.20" y2="839.10" stroke="#222" stroke-width="1.2" />
<text x="92.7" y="858.5" font-size="5.2" text-anchor="middle" fill="#444" class="nr">0</text>
<line x1="92.70" y1="849.00" x2="92.70" y2="850.80" stroke="#555" stroke-width="0.8" />
<text x="112.7" y="858.5" font-size="5.2" text-anchor="middle" fill="#444" class="nr">50K</text>
<line x1="112.70" y1="849.00" x2="112.70" y2="850.80" stroke="#555" stroke-width="0.8" />
<text x="132.9" y="858.5" font-size="5.2" text-anchor="middle" fill="#444" class="nr">100K</text>
<line x1="132.90" y1="849.00" x2="132.90" y2="850.80" stroke="#555" stroke-width="0.8" />
<text x="153.2" y="858.5" font-size="5.2" text-anchor="middle" fill="#444" class="nr">150K</text>
<line x1="153.20" y1="849.00" x2="153.20" y2="850.80" stroke="#555" stroke-width="0.8" />
<text x="173.2" y="858.5" font-size="5.2" text-anchor="middle" fill="#444" class="nr">200K</text>
<line x1="173.20" y1="849.00" x2="173.20" y2="850.80" stroke="#555" stroke-width="0.8" />
<text x="192.7" y="858.5" font-size="5.2" text-anchor="middle" fill="#444" class="nr">250K</text>
<line x1="192.70" y1="849.00" x2="192.70" y2="850.80" stroke="#555" stroke-width="0.8" />
<path d="M130.3 776.2h0M132.8 777.4h0M122.5 831.7h0M151.4 745.2h0M126.9 819.5h0M131.4 848.6h0M165.1 747.3h0M128.1 782.6h0M123.1 786.1h0M125.3 833.6h0M140.3 767.6h0M154.7 763.5h0M119.7 812.2h0M116.8 807.0h0M121.6 842.0h0M134.4 847.6h0M158.6 753.2h0M162.5 760.1h0M158.2 745.6h0M161.6 762.0h0M122.6 821.0h0M125.6 789.4h0M124.1 819.4h0M160.1 763.7h0M128.4 778.1h0M146.1 772.2h0M127.1 780.9h0M121.4 796.6h0M134.2 780.4h0M129.5 823.0h0M154.1 770.4h0M142.4 763.6h0M122.2 804.5h0M153.8 760.2h0M156.0 759.8h0M126.2 791.0h0M158.9 764.8h0M123.4 844.2h0M158.5 747.8h0M120.1 808.2h0M149.3 762.9h0M131.1 827.5h0M117.7 817.6h0M130.4 842.0h0M120.6 794.3h0M127.3 832.6h0M120.4 810.4h0M120.4 809.6h0M126.0 792.3h0M122.8 808.0h0M125.9 813.2h0M153.3 754.5h0M123.1 818.1h0M121.1 843.8h0M128.5 831.9h0M119.3 811.0h0M149.2 758.3h0M153.4 751.1h0M124.1 839.2h0M128.3 803.3h0M163.6 750.6h0M126.2 807.6h0M134.9 817.7h0M126.5 790.3h0M126.5 791.5h0M145.9 762.3h0M127.7 845.9h0M149.3 770.1h0M140.2 766.7h0M149.6 758.4h0M147.3 769.4h0M145.4 767.4h0M133.9 778.7h0M127.9 808.6h0M122.2 846.3h0M122.9 819.1h0M157.7 745.0h0M127.1 801.8h0M126.6 789.4h0M143.3 774.0h0M144.5 771.4h0M139.2 767.5h0M153.1 772.6h0M136.2 770.9h0M128.3 779.2h0M127.1 840.6h0M121.6 811.9h0M118.6 844.0h0M117.0 821.4h0M117.9 807.0h0M118.8 841.4h0M125.4 845.5h0M130.5 781.9h0M128.4 787.2h0M164.6 750.4h0M118.8 819.7h0M131.0 791.1h0M117.0 814.5h0M130.6 831.8h0M160.5 754.6h0M118.3 795.5h0M121.9 806.2h0M119.0 837.5h0M128.9 778.3h0M161.6 756.7h0M117.6 803.3h0M168.3 747.7h0M125.1 841.1h0M165.8 747.7h0M153.5 750.5h0M118.1 834.0h0M128.1 795.7h0M149.0 763.1h0M132.9 774.2h0M122.5 848.6h0M118.9 820.9h0M118.2 812.2h0M126.6 784.8h0M139.7 774.2h0M148.5 755.9h0M161.8 754.0h0M141.8 767.2h0M117.8 846.6h0M121.9 838.2h0M152.4 746.4h0M119.2 798.6h0M157.4 748.2h0M151.7 757.0h0M134.9 777.0h0M166.1 759.2h0M117.6 845.1h0M156.6 750.9h0M138.0 837.3h0M146.2 780.3h0M129.6 796.1h0M152.1 757.1h0M130.0 804.7h0M139.2 782.5h0M119.3 819.4h0M145.8 768.4h0M122.4 841.9h0M160.5 748.3h0M119.7 802.6h0M121.5 837.8h0M157.0 746.1h0M127.0 826.2h0M120.7 829.2h0M123.4 803.3h0M117.3 847.4h0M128.1 782.7h0M165.0 751.0h0M127.9 792.5h0M129.2 807.6h0M124.3 815.4h0M133.4 775.5h0M139.4 777.4h0M166.4 753.3h0M173.3 755.4h0M118.4 841.8h0M139.6 764.7h0M118.2 823.4h0M154.4 757.5h0M117.0 817.8h0M126.2 814.1h0M134.0 776.8h0M124.0 789.4h0M144.1 761.0h0M125.4 819.9h0M163.2 751.1h0M123.4 803.8h0M127.5 812.3h0M150.0 768.7h0M159.6 746.4h0M117.7 836.1h0M135.6 794.9h0M121.8 791.9h0M121.2 804.8h0M135.7 778.6h0M148.6 763.2h0M146.4 759.2h0M130.1 814.7h0M134.6 776.8h0M172.0 755.3h0M147.0 767.5h0M120.4 823.1h0M163.6 764.6h0M146.8 758.0h0M134.9 779.0h0M138.5 781.0h0M153.9 770.3h0M125.7 800.8h0M116.7 818.0h0M133.2 842.7h0M143.8 766.6h0M133.8 778.1h0M132.4 844.4h0M144.2 770.0h0M158.0 745.4h0M138.5 770.2h0M133.2 772.8h0M167.2 761.6h0M163.9 753.8h0M130.0 842.8h0M153.7 749.9h0M149.6 754.3h0M127.9 841.9h0M124.0 807.4h0M143.0 764.3h0M124.9 834.5h0M133.5 808.5h0M127.1 847.4h0M136.9 783.7h0M145.6 766.9h0M162.8 759.6h0M155.8 763.5h0M157.3 745.1h0M156.6 755.3h0M138.2 782.2h0M118.1 838.6h0M132.1 775.9h0M118.3 831.6h0M145.9 762.8h0M167.3 748.4h0M133.1 781.1h0M137.2 770.5h0M116.8 811.9h0M129.3 798.0h0M150.5 760.6h0M142.6 765.3h0M159.7 752.7h0M132.4 773.7h0M152.8 745.8h0M135.8 846.2h0M127.8 781.0h0M126.6 847.0h0M126.2 802.9h0M171.3 750.7h0M126.4 824.6h0M133.1 775.1h0M125.6 826.4h0M129.0 787.1h0M146.6 761.9h0M142.1 765.0h0M139.3 783.8h0M169.0 749.1h0M151.9 770.8h0M165.9 745.7h0M120.4 842.1h0M126.5 791.9h0M121.0 832.3h0M145.5 771.3h0M123.2 798.2h0M123.0 809.4h0M117.2 811.3h0M136.3 777.8h0M147.5 778.6h0M129.4 789.9h0M119.8 839.2h0M163.1 749.0h0M130.7 812.5h0M151.4 770.5h0M124.4 822.6h0M120.0 822.5h0M153.7 749.0h0M123.5 814.0h0M136.2 779.8h0M171.9 749.1h0M118.1 835.2h0M118.3 831.9h0M123.1 795.2h0M138.2 776.5h0M127.6 779.7h0M127.4 792.2h0M169.1 748.2h0M123.9 819.3h0M145.1 768.4h0M140.4 772.0h0M144.9 773.6h0M122.4 816.9h0M119.8 830.3h0M124.2 804.9h0M147.9 776.8h0M157.3 754.7h0M145.7 765.1h0M167.0 745.5h0M125.3 823.2h0M124.0 809.9h0M152.8 763.8h0M143.2 772.9h0M127.8 795.7h0M131.9 781.0h0M164.1 754.2h0M131.8 803.1h0M158.7 748.7h0M117.4 837.8h0M122.9 788.0h0M166.9 763.7h0M140.7 778.0h0M132.3 804.7h0M124.1 824.3h0M119.3 823.4h0M119.1 848.9h0M120.4 810.8h0M156.8 747.5h0M154.3 746.1h0M179.7 748.3h0M145.3 763.7h0M142.9 784.1h0M158.2 770.8h0M128.6 794.4h0M125.1 832.9h0M127.5 842.1h0M117.7 798.7h0M169.5 750.5h0M144.6 763.9h0M153.9 762.1h0M121.7 827.4h0M144.9 772.0h0M125.0 801.6h0M133.5 772.5h0M117.6 817.4h0M117.2 811.4h0M117.9 813.5h0M139.8 765.9h0M171.3 748.1h0M129.3 804.4h0M118.9 820.2h0M136.5 833.5h0M136.5 772.2h0M116.6 809.7h0M124.1 835.0h0M153.6 749.9h0M123.4 834.2h0M138.5 767.4h0M121.6 791.3h0M120.3 819.8h0M119.4 821.3h0M121.4 825.3h0M152.7 763.6h0M136.6 789.9h0M137.6 770.1h0M130.7 779.3h0M123.8 839.2h0M134.1 787.5h0M119.8 828.6h0M125.2 829.2h0M126.2 815.8h0M148.9 770.5h0M134.1 838.4h0M156.5 750.0h0M122.6 813.0h0M156.3 750.5h0M165.4 755.4h0M126.9 820.8h0M148.4 769.1h0M119.3 815.9h0M158.0 762.3h0M163.6 754.0h0M138.4 779.4h0M127.3 836.1h0M152.3 754.2h0M154.5 773.3h0M121.7 831.8h0M144.0 761.0h0M150.1 770.6h0M144.2 773.3h0M126.4 807.1h0M117.4 807.7h0M155.3 762.5h0M121.8 786.4h0M120.8 788.5h0M156.5 747.0h0M127.8 779.3h0M152.2 750.8h0M158.5 763.1h0M123.2 836.4h0M141.6 764.1h0M147.8 772.6h0M144.0 762.6h0M120.0 826.4h0M143.7 763.9h0M123.4 791.4h0M126.4 785.0h0M124.7 815.2h0M125.5 829.9h0M155.2 763.4h0M121.8 809.2h0M132.8 798.8h0M126.7 784.5h0M168.2 747.5h0M147.8 764.4h0M123.1 795.7h0M150.4 763.8h0M121.4 847.1h0M130.2 787.8h0M122.9 840.0h0M124.9 793.2h0M129.1 816.3h0M142.1 765.3h0M141.3 781.2h0M128.6 845.1h0M131.0 788.9h0M124.2 794.0h0M159.7 745.8h0M130.2 786.7h0M164.3 762.1h0M162.7 759.9h0M123.7 837.4h0M117.3 841.8h0M122.6 845.5h0M117.9 799.9h0M156.5 761.6h0M170.2 754.3h0M121.7 794.6h0M168.6 745.4h0M170.4 751.0h0M178.5 750.1h0M129.6 791.5h0M118.4 835.7h0M136.8 848.7h0M124.1 843.2h0M137.1 805.7h0M130.4 812.6h0M127.3 838.6h0M124.5 821.5h0M122.4 834.8h0M119.8 812.7h0M165.6 752.2h0M141.0 777.1h0M127.2 837.0h0M122.9 802.4h0M150.8 755.6h0M122.8 831.1h0M158.1 752.8h0M162.2 750.7h0M122.5 803.7h0M148.2 770.1h0M117.9 810.8h0M125.5 814.9h0M137.5 768.8h0M151.4 767.3h0M129.2 842.0h0M139.7 766.5h0M133.2 847.9h0M144.1 765.8h0M135.3 842.1h0M126.2 785.0h0M124.9 785.6h0M135.2 836.3h0M156.2 752.5h0M142.3 780.8h0M131.6 821.3h0M148.0 775.9h0M126.1 787.7h0M138.8 767.9h0M120.7 838.6h0M140.5 771.4h0M126.6 787.2h0M131.2 848.2h0M119.6 842.1h0M175.5 745.3h0M121.5 806.2h0M138.9 768.9h0M140.1 777.4h0M158.5 748.6h0M133.3 775.6h0M124.3 797.9h0M127.8 846.5h0M118.9 838.7h0M118.2 798.2h0M131.7 821.9h0M122.9 831.1h0M124.4 844.8h0M128.0 795.8h0M130.7 775.6h0M143.1 775.4h0M127.7 827.1h0M119.1 841.2h0M129.6 846.2h0M129.0 802.3h0M157.0 754.7h0M118.8 799.6h0M123.9 827.3h0M119.9 806.2h0M135.3 773.5h0M130.5 796.0h0M119.8 822.1h0M118.2 837.8h0M133.7 772.7h0M121.0 824.1h0M156.8 754.6h0M155.6 751.5h0M148.8 759.0h0M117.1 815.8h0M138.5 774.5h0M149.6 772.4h0M121.5 831.2h0M125.1 793.2h0M154.7 749.4h0M153.4 756.0h0M125.7 812.9h0M141.5 763.4h0M155.8 768.3h0M116.9 805.5h0M121.6 846.1h0M128.0 781.8h0M117.6 798.8h0M125.8 798.7h0M141.3 774.6h0M137.3 777.0h0M120.4 802.1h0M120.3 806.7h0M121.7 799.5h0M146.6 765.7h0M127.5 832.6h0M118.6 841.4h0M157.9 765.2h0M142.9 770.2h0M126.7 782.6h0M153.2 759.1h0M145.6 760.5h0M153.3 761.6h0M126.2 781.8h0M124.5 785.5h0M133.2 782.5h0M135.6 821.4h0M125.9 791.6h0M146.4 771.2h0M131.8 775.0h0M135.6 774.4h0M130.4 823.3h0M135.2 771.2h0M156.3 771.0h0M154.3 763.0h0M172.6 747.4h0M130.0 814.0h0M158.1 746.4h0M139.7 784.0h0M117.2 829.0h0M133.3 800.1h0M132.3 773.3h0M116.9 832.0h0M136.3 772.9h0M118.7 799.4h0M117.9 804.5h0M147.4 760.6h0M129.1 810.5h0M128.6 814.4h0M119.7 806.3h0M138.6 832.4h0M126.2 780.5h0M121.6 809.4h0M120.7 840.6h0M148.0 761.2h0M157.7 747.2h0M133.5 778.1h0M124.2 799.9h0M161.4 752.5h0M123.1 848.2h0M121.7 841.4h0M127.1 780.9h0M122.8 842.3h0M152.1 771.6h0M121.1 809.1h0M123.2 808.7h0M153.2 764.6h0M167.0 748.9h0M151.1 755.2h0M125.8 788.1h0M167.5 751.3h0M119.5 812.4h0M159.9 768.7h0M130.5 775.8h0M127.7 846.9h0M121.0 811.1h0M122.4 791.7h0M139.9 768.0h0M127.8 780.7h0M137.7 773.5h0M125.1 790.6h0M120.6 806.1h0M145.9 759.7h0M146.2 763.5h0M119.5 815.9h0M141.0 765.8h0M128.4 806.3h0M153.1 757.7h0M126.0 796.7h0M154.0 758.5h0M158.7 754.1h0M121.3 799.0h0M160.1 750.0h0M140.0 769.3h0M132.4 837.0h0M142.4 765.3h0M159.2 762.5h0M136.7 780.8h0M121.3 804.0h0M135.5 773.5h0M137.3 772.9h0M149.8 762.3h0M127.5 811.9h0M155.1 745.9h0M118.7 798.2h0M131.7 828.6h0M120.9 835.2h0M117.8 796.9h0M135.3 778.9h0M151.4 755.4h0M116.6 819.6h0M174.4 757.9h0M158.2 753.0h0M131.8 781.0h0M127.7 796.5h0M122.1 841.9h0M155.6 752.7h0M124.4 821.1h0M117.3 803.2h0M119.5 814.7h0M135.0 770.6h0M122.4 843.6h0M122.1 821.3h0M119.0 792.3h0M157.7 745.5h0M131.6 781.9h0M160.2 746.5h0M170.5 747.0h0M119.2 796.0h0M172.3 752.8h0M167.0 748.9h0M124.3 829.2h0M130.4 779.8h0M138.6 766.1h0M141.2 770.1h0M148.0 769.0h0M181.5 747.7h0M170.4 751.0h0M120.9 821.1h0M163.1 745.7h0M119.5 847.3h0M150.9 769.6h0M152.0 763.1h0M126.1 806.3h0M126.1 845.4h0M126.5 825.0h0M122.2 785.9h0M119.5 800.2h0M131.8 783.8h0M125.6 792.1h0M151.2 757.3h0M150.6 755.9h0M125.8 847.9h0M146.3 765.6h0M165.8 746.1h0M155.4 749.8h0M157.6 746.0h0M173.3 751.7h0M135.7 780.8h0M127.5 811.4h0M126.2 792.0h0M121.0 794.0h0M119.7 842.6h0M123.2 835.3h0M153.7 754.6h0M163.6 745.7h0M124.0 843.1h0M118.7 842.9h0M118.2 846.2h0M174.3 753.6h0M123.8 789.2h0M119.4 839.8h0M117.7 794.6h0M156.8 763.2h0M138.2 787.8h0M136.0 800.1h0M145.6 759.9h0M133.1 787.2h0M157.5 749.4h0M125.5 783.0h0M153.0 773.3h0M130.3 799.2h0M166.8 753.2h0M118.6 812.4h0M124.5 810.2h0M121.5 837.0h0M117.7 794.7h0M149.5 765.4h0M124.0 822.6h0M159.8 758.0h0M133.8 838.3h0M120.8 819.3h0M150.2 753.7h0M152.0 754.9h0M139.9 771.6h0M140.5 771.4h0M122.5 846.8h0M155.6 754.4h0M135.5 809.1h0M119.9 800.1h0M117.9 826.0h0M158.2 750.9h0M132.4 827.0h0M126.3 810.6h0M136.2 812.0h0M121.8 830.4h0M138.8 773.0h0M126.5 809.4h0M117.3 807.2h0M137.3 777.3h0M129.6 821.2h0M126.7 801.2h0M126.4 843.7h0M130.1 784.4h0M132.3 820.1h0M163.0 749.5h0M120.4 816.6h0M159.1 748.5h0M158.2 753.9h0M134.6 772.6h0M117.5 804.9h0M123.9 802.7h0M125.8 833.0h0M139.4 769.2h0M127.2 819.0h0M116.6 809.0h0M170.4 754.9h0M120.3 841.0h0M123.1 821.4h0M118.5 819.2h0M143.0 770.0h0M127.1 806.8h0M147.0 767.2h0M120.0 846.1h0M152.5 770.8h0M159.7 747.7h0M132.4 783.0h0M165.3 764.7h0M128.6 836.5h0M126.7 818.9h0M139.3 774.9h0M133.3 786.9h0M120.6 792.0h0M158.8 747.6h0M166.9 746.0h0M129.3 808.5h0M134.1 776.0h0M125.6 792.5h0M125.8 844.0h0M123.8 790.7h0M132.1 814.4h0M132.6 833.7h0M117.9 802.5h0M160.6 764.8h0M157.0 756.4h0M117.4 807.6h0M150.0 759.4h0M128.9 823.3h0M137.3 772.8h0M116.6 841.4h0M119.5 838.0h0M120.5 824.7h0M160.2 749.9h0M158.6 757.6h0M165.9 752.2h0M135.5 801.3h0M124.8 812.9h0M124.8 787.2h0M125.5 797.2h0M130.8 825.0h0M161.6 762.8h0M136.2 777.1h0M118.1 796.1h0M120.9 798.5h0M166.7 751.9h0M123.4 795.7h0M117.0 835.9h0M118.6 821.0h0M121.7 813.0h0M123.0 797.0h0M136.9 777.0h0M122.7 793.1h0M140.8 775.4h0M117.6 841.7h0M147.2 759.7h0M120.5 830.1h0M158.4 752.9h0M163.0 762.4h0M125.1 782.8h0M159.0 755.0h0M131.8 780.6h0M169.5 752.3h0M146.3 758.3h0M126.9 836.6h0M143.2 777.5h0M117.7 816.2h0M156.4 755.6h0M122.7 847.2h0M119.0 839.7h0M119.0 811.9h0M127.1 785.3h0M123.8 841.0h0M120.8 821.9h0M121.5 847.9h0M123.8 823.8h0M163.8 763.1h0M120.1 842.6h0M166.1 761.1h0M137.9 784.2h0M146.0 759.9h0M130.5 809.2h0M165.6 755.3h0M120.8 840.3h0M118.8 798.2h0M165.8 760.8h0M121.0 839.1h0M122.8 816.5h0M130.5 827.7h0M172.9 752.9h0M125.2 818.7h0M157.8 745.3h0M159.9 763.2h0M119.5 809.0h0M120.3 847.8h0M118.8 812.4h0M153.5 762.4h0M123.5 813.7h0M117.4 805.1h0M120.0 801.8h0M167.0 759.3h0M120.6 837.4h0M167.4 757.0h0M128.4 830.0h0M120.9 845.8h0M156.1 749.3h0M128.0 789.5h0M126.8 848.3h0M149.1 760.4h0M135.9 791.2h0M160.1 762.2h0M129.7 836.2h0M129.2 818.1h0M131.5 837.7h0M139.1 778.0h0M117.2 840.0h0M119.4 843.9h0M176.3 755.0h0M125.9 846.2h0M118.6 844.1h0M118.5 816.7h0M125.2 787.6h0M120.2 826.3h0M118.5 821.4h0M117.7 822.3h0M163.2 752.6h0M137.6 786.0h0M136.9 783.8h0M123.9 802.1h0M129.7 787.3h0M135.5 787.1h0M120.2 825.7h0M124.8 825.4h0M120.0 824.1h0M133.3 773.6h0M161.2 760.5h0M144.4 762.2h0M123.8 817.6h0M120.9 826.4h0M119.3 821.3h0M129.1 830.6h0M126.1 844.9h0M169.4 752.7h0M153.7 750.8h0M144.5 767.9h0M149.5 758.0h0M129.0 819.3h0M122.7 827.9h0M127.8 839.1h0M150.2 763.5h0M161.7 758.0h0M175.0 759.9h0M124.1 804.7h0M119.6 848.1h0M118.4 813.9h0M122.7 785.9h0M153.2 764.6h0M124.0 796.2h0M122.5 841.4h0M117.0 835.6h0M153.9 751.8h0M125.1 811.7h0M131.1 782.3h0M124.1 788.9h0M120.8 811.6h0M151.3 760.2h0M150.5 774.3h0M156.9 753.7h0M134.3 783.9h0M146.9 776.5h0M132.5 814.5h0M152.8 761.3h0M126.4 783.4h0M122.4 786.8h0M123.8 823.4h0M132.0 774.6h0M148.9 774.7h0M131.6 777.4h0M129.8 819.7h0M130.6 776.8h0M123.0 788.6h0M128.1 791.7h0M138.1 775.7h0M148.2 771.1h0M130.5 779.8h0M122.0 814.2h0M126.9 809.1h0M162.9 766.0h0M174.3 750.8h0M169.0 759.6h0M137.5 778.8h0M127.0 820.8h0M124.5 838.0h0M126.0 821.3h0M139.1 771.4h0M156.0 772.9h0M118.0 809.3h0M119.9 823.4h0M118.4 797.6h0M120.7 848.9h0M118.7 843.7h0M126.2 795.0h0M156.0 770.7h0M135.8 820.1h0M128.3 804.3h0M133.0 843.0h0M126.2 782.6h0M140.3 770.3h0M130.8 778.9h0M161.4 768.1h0M154.0 754.0h0M160.2 758.5h0M130.5 789.4h0M117.1 798.6h0M154.1 764.5h0M120.1 790.7h0M146.7 762.0h0M139.9 772.9h0M122.2 799.9h0M139.4 766.2h0M141.8 774.7h0M117.6 828.7h0M119.4 830.6h0M127.9 790.1h0M131.4 780.5h0M121.2 820.6h0M153.3 756.3h0M136.7 819.7h0M127.4 841.5h0M118.6 802.9h0M137.9 791.1h0M130.4 847.9h0M124.2 795.6h0M126.1 822.5h0M122.1 830.9h0M132.9 822.2h0M134.0 816.1h0M117.6 831.8h0M117.6 838.1h0M127.8 831.7h0M164.5 745.9h0M152.7 751.4h0M143.9 769.3h0M129.2 792.4h0M144.3 765.4h0M120.8 840.5h0M117.9 837.5h0M141.8 768.0h0M134.8 824.1h0M127.5 792.2h0M122.3 809.4h0M132.4 793.5h0M149.8 774.3h0M131.7 776.3h0M152.9 753.6h0M117.2 848.8h0M134.2 787.0h0M122.8 791.8h0M149.0 761.2h0M138.7 782.1h0M121.0 807.6h0M154.8 745.7h0M133.9 820.3h0M150.9 766.2h0M135.0 784.2h0M117.9 825.4h0M151.7 763.2h0M124.3 783.2h0M127.5 833.6h0M171.5 746.2h0M118.7 814.0h0M127.4 829.1h0M163.4 757.4h0M142.0 767.8h0M121.8 811.3h0M127.8 841.2h0M126.1 842.5h0M152.1 763.0h0M143.0 765.6h0M144.1 767.4h0M162.1 767.5h0M125.1 830.9h0M156.3 756.5h0M121.1 833.7h0M127.0 826.7h0M120.3 805.7h0M132.3 797.4h0M128.4 824.3h0M135.8 836.9h0M126.9 838.9h0M137.9 766.8h0M166.1 751.8h0M117.6 848.6h0M119.3 833.1h0M153.2 751.0h0M129.2 837.6h0M122.8 812.5h0M137.8 767.4h0M133.0 841.2h0M122.2 808.0h0M154.0 746.4h0M124.7 830.4h0M126.7 799.9h0M156.2 765.7h0M126.7 789.4h0M155.1 759.1h0M147.3 778.5h0M142.1 769.7h0M132.3 826.1h0M151.5 766.0h0M148.6 766.9h0M147.8 762.5h0M122.1 840.9h0M121.8 821.9h0M117.0 805.4h0M138.4 774.4h0M117.4 797.8h0M121.9 786.7h0M145.7 769.9h0M120.3 844.5h0M124.8 808.5h0M139.3 768.7h0M161.0 745.9h0M124.2 784.3h0M153.2 760.2h0M127.2 846.2h0M125.8 838.9h0M151.1 753.8h0M142.9 763.3h0M148.6 758.9h0M118.9 831.1h0M123.2 814.7h0M125.5 842.5h0M149.4 756.7h0M153.9 766.5h0M120.6 794.8h0M117.2 842.8h0M129.9 846.4h0M155.6 746.9h0M128.1 787.2h0M151.6 769.3h0M124.5 825.6h0M132.9 840.2h0M122.1 804.8h0M122.5 822.9h0M157.0 750.9h0M148.3 766.4h0M148.1 756.8h0M138.8 774.3h0M148.1 776.0h0M123.8 819.7h0M145.2 759.2h0M141.3 766.1h0M164.4 765.0h0M160.6 758.5h0M161.6 747.5h0M139.3 768.6h0M134.0 829.3h0M135.9 769.4h0M123.4 828.4h0M140.3 773.8h0M155.8 747.0h0M128.0 799.5h0M153.0 766.7h0M122.5 805.8h0M119.6 825.9h0M146.7 759.3h0M127.0 804.8h0M121.0 820.5h0M148.2 756.0h0M125.2 810.4h0M122.9 831.7h0M135.3 771.9h0M120.3 834.4h0M150.4 745.2h0M125.3 815.8h0M161.4 754.0h0M157.2 747.4h0M127.0 817.1h0M119.0 829.5h0M157.5 755.7h0M119.7 827.2h0M122.7 804.5h0M118.1 805.1h0M134.4 778.0h0M120.7 816.5h0M120.2 811.2h0M125.5 824.5h0M144.0 774.8h0M151.4 752.6h0M117.6 805.3h0M127.0 808.0h0M159.5 766.2h0M150.5 760.7h0M166.8 759.2h0M145.7 770.0h0M118.9 822.6h0M152.2 762.6h0M154.1 752.0h0M172.5 750.5h0M163.8 752.5h0M118.5 807.6h0M132.9 777.7h0M124.3 848.7h0M121.6 815.1h0M121.1 807.9h0M116.6 808.2h0M128.5 809.2h0M121.3 843.6h0M123.7 793.8h0M133.3 842.5h0M118.3 839.1h0M148.7 764.2h0M151.2 761.6h0M118.9 812.1h0M126.6 841.1h0M133.2 794.5h0M165.3 763.4h0M141.2 772.6h0M174.4 756.2h0M137.5 800.0h0M160.9 748.7h0M137.1 779.6h0M125.8 844.1h0M129.7 823.5h0M122.5 800.8h0M176.9 749.8h0M138.4 772.3h0M157.7 759.3h0M154.1 748.8h0M127.9 781.8h0M126.1 793.7h0M162.8 746.3h0M166.9 746.5h0M124.3 846.3h0M145.3 760.7h0M120.4 797.1h0M145.2 759.6h0M170.2 753.0h0M144.5 765.0h0M145.3 776.6h0M118.5 820.3h0M121.0 815.5h0M161.3 747.6h0M130.1 838.0h0M167.3 754.1h0M117.0 817.5h0M126.3 811.2h0M134.7 848.9h0M137.2 787.5h0M118.4 820.8h0M159.5 762.7h0M161.2 748.9h0M116.7 819.5h0M164.0 747.2h0M118.6 816.4h0M123.4 844.3h0M146.9 766.1h0M164.9 756.8h0M119.8 844.4h0M120.0 823.4h0M130.9 838.9h0M125.0 832.3h0M173.4 749.4h0M124.7 800.7h0M120.9 808.0h0M146.5 768.0h0M118.8 830.2h0M126.6 834.2h0M150.3 755.4h0M145.6 762.4h0M130.6 775.8h0M133.4 836.6h0M122.7 802.1h0M135.3 783.0h0M131.6 842.7h0M164.5 761.4h0M137.5 773.8h0M129.4 787.5h0M124.2 809.1h0M135.4 770.5h0M123.6 790.2h0M123.7 826.3h0M128.7 802.4h0M129.3 779.8h0M140.5 777.4h0M135.5 837.2h0M121.8 792.6h0M150.5 774.7h0M154.8 749.8h0M127.4 780.7h0M124.8 841.3h0M119.3 825.3h0M121.6 831.8h0M159.9 760.6h0M127.4 783.0h0M119.9 848.0h0M127.1 801.9h0M130.4 783.2h0M124.8 788.4h0M127.7 842.6h0M123.6 788.1h0M118.8 800.3h0M169.1 750.2h0M159.2 757.4h0M117.6 802.7h0M130.4 809.8h0M118.0 844.0h0M156.0 754.0h0M122.5 839.1h0M123.6 823.6h0M119.8 818.6h0M132.6 813.1h0M164.0 756.3h0M123.0 823.3h0M121.7 835.8h0M161.4 749.4h0M169.3 755.1h0M123.3 829.8h0M135.4 842.9h0M150.7 759.5h0M130.0 846.7h0M128.8 781.4h0M152.7 750.9h0M146.4 764.0h0M120.2 847.9h0M124.8 784.2h0M118.0 828.0h0M118.3 817.1h0M129.4 828.3h0M118.9 799.5h0M122.5 818.0h0M124.2 806.7h0M149.7 763.9h0M158.7 745.7h0M149.7 765.2h0M151.8 759.0h0M164.8 755.1h0M158.4 749.5h0M146.4 769.5h0M124.2 783.5h0M126.2 819.7h0M142.3 770.5h0M121.0 822.3h0M120.0 842.7h0M153.0 762.2h0M123.2 837.9h0M120.1 812.1h0M127.9 827.6h0M116.7 835.3h0M120.6 822.5h0M129.0 784.7h0M128.7 824.4h0M126.3 826.4h0M132.5 806.2h0M138.8 765.7h0M128.7 781.1h0M121.1 804.4h0M123.8 832.7h0M128.2 810.8h0M123.7 828.0h0M142.5 771.1h0M122.0 816.6h0M133.8 825.8h0M158.2 749.5h0M118.1 828.2h0M171.1 748.2h0M143.5 766.0h0M117.1 823.3h0M140.7 776.2h0M127.7 785.4h0M120.1 793.1h0" stroke="#2a2a3a" stroke-width="1.00" stroke-linecap="round" fill="none" opacity="0.85"/>
<path d="M119.6 811.9h0M129.9 808.8h0M118.0 832.2h0M141.2 779.6h0M117.7 812.1h0M155.1 840.7h0M174.8 794.0h0M130.7 846.9h0M118.9 837.5h0M146.5 781.2h0M142.7 807.0h0M162.1 745.1h0M159.7 833.5h0M137.1 848.0h0M177.4 756.6h0M119.5 831.1h0M120.5 792.5h0M124.0 842.4h0M130.9 822.7h0M134.5 785.7h0M140.5 829.6h0M163.1 832.5h0M140.9 793.4h0M123.7 841.5h0M129.5 792.3h0M126.5 833.7h0M148.1 794.3h0M132.1 825.8h0M135.2 795.7h0M131.5 785.0h0M120.1 811.7h0M155.7 763.8h0M138.3 843.8h0M123.4 814.0h0M138.9 767.8h0M143.2 769.7h0M146.9 787.1h0M131.4 827.6h0M154.7 840.5h0M159.0 817.9h0M121.1 840.0h0M147.7 759.9h0M158.4 827.6h0M130.4 786.9h0M166.0 776.6h0M153.8 755.4h0M133.3 798.2h0M171.9 757.1h0M136.4 774.4h0M132.4 795.8h0M119.3 822.0h0M127.5 835.9h0M141.0 773.4h0M136.5 824.3h0M161.9 824.5h0M143.2 814.2h0M150.7 844.9h0M133.1 795.1h0M122.6 824.9h0M145.3 774.7h0M118.1 822.7h0M138.4 847.7h0M133.9 773.7h0M138.3 771.2h0M137.6 819.7h0M149.3 815.3h0M145.6 827.3h0M146.6 810.8h0M134.4 821.9h0M163.6 812.0h0M127.1 804.5h0M168.5 749.7h0M162.4 787.1h0M119.5 822.9h0M157.4 770.5h0M164.3 779.9h0M129.9 819.6h0M193.7 751.9h0M130.4 791.2h0M119.1 810.1h0M195.0 749.8h0M122.9 838.7h0M125.7 832.4h0M138.4 774.4h0M148.5 757.9h0M153.4 780.3h0M139.3 847.8h0M129.1 826.2h0M144.4 845.8h0M158.6 774.4h0M119.3 800.1h0M140.7 811.3h0M161.5 762.7h0M135.0 836.7h0M184.7 748.2h0M149.9 797.2h0M134.7 784.9h0M133.4 840.6h0M176.5 779.5h0M158.5 760.8h0M187.6 746.1h0M143.9 789.7h0M158.9 750.5h0M134.3 790.9h0M127.9 785.9h0M155.2 775.5h0M149.0 820.6h0M141.3 791.1h0M158.6 747.5h0M158.4 812.3h0M172.3 792.7h0M126.5 790.9h0M136.5 789.0h0M159.3 752.2h0M146.6 828.0h0M147.8 835.9h0M163.2 749.1h0M162.6 759.2h0M170.3 754.9h0M121.7 833.1h0M153.6 768.6h0M136.9 847.9h0M162.7 750.0h0M167.3 830.3h0M161.7 794.6h0M133.1 781.9h0M144.5 776.4h0M126.9 800.7h0M121.4 796.7h0M137.0 809.8h0M118.7 809.3h0M143.6 790.5h0M125.2 848.1h0M139.6 777.0h0M125.4 827.2h0M119.4 794.7h0M126.6 791.4h0M147.6 770.5h0M122.3 812.1h0M131.9 818.0h0M152.4 770.2h0M148.6 824.9h0M177.9 764.2h0M155.4 761.8h0M122.3 793.8h0M169.8 760.2h0M126.1 815.0h0M162.9 762.2h0M135.3 780.6h0M163.7 769.5h0M133.9 816.0h0M133.1 801.9h0M124.7 804.0h0M150.0 757.3h0M166.7 767.6h0M159.4 838.0h0M118.4 801.8h0M181.1 750.3h0M123.6 843.8h0M155.7 747.7h0M142.6 789.6h0M160.7 782.6h0M161.3 785.5h0M149.3 771.5h0M150.6 790.0h0M119.6 812.4h0M129.4 833.0h0M133.2 825.5h0M167.0 845.9h0M145.9 760.7h0M129.9 783.2h0M166.3 813.3h0M166.8 775.7h0M131.0 798.1h0M124.1 843.9h0M144.5 765.8h0M165.1 753.5h0M134.2 779.8h0M138.5 770.3h0M149.8 765.3h0M148.7 797.7h0M119.7 819.6h0M131.5 830.3h0M145.8 773.5h0M156.0 755.3h0M132.2 821.0h0M120.1 845.6h0M155.4 845.6h0M136.2 829.8h0M146.2 780.4h0M166.7 828.9h0M131.1 789.2h0M161.6 746.2h0M172.2 757.0h0M130.4 824.6h0M154.9 820.1h0M146.8 759.7h0M140.6 779.3h0M123.2 818.1h0M134.8 846.8h0M119.4 799.8h0M123.0 843.6h0M121.2 814.5h0M142.1 786.9h0M177.4 793.2h0M195.3 745.3h0M156.4 756.8h0M135.1 828.6h0M169.0 841.1h0M128.3 836.4h0M120.0 825.3h0M163.7 763.9h0M148.1 789.2h0M124.2 842.6h0M152.7 789.6h0M185.1 755.9h0M139.8 766.7h0M163.2 820.5h0M121.6 789.6h0M141.6 830.6h0M170.2 761.1h0M118.1 836.2h0M159.2 769.8h0M127.3 848.5h0M150.0 760.6h0M175.9 803.5h0M184.5 766.6h0M140.5 792.1h0M130.5 801.4h0M143.2 766.1h0M141.4 836.1h0M138.7 790.8h0M122.0 817.6h0M130.1 838.0h0M180.1 754.4h0M130.2 787.1h0M132.2 779.7h0M139.7 823.9h0M146.1 836.5h0M151.2 795.3h0M135.2 773.6h0M176.1 781.7h0M155.9 763.7h0M163.2 797.6h0M136.7 775.4h0M131.9 824.9h0M137.0 834.8h0M158.9 760.1h0M175.8 755.4h0M129.8 842.6h0M146.7 847.6h0M145.4 842.4h0M123.7 844.5h0M126.0 802.4h0M134.6 813.7h0M154.2 816.4h0M152.0 830.1h0M143.1 780.9h0M179.1 756.3h0M159.8 790.0h0M134.0 777.5h0M174.3 752.6h0M142.6 763.9h0M139.3 794.6h0M173.9 795.9h0M144.5 795.8h0M127.6 780.3h0M124.9 807.0h0M123.2 814.7h0M171.1 813.7h0M157.1 754.1h0M157.8 836.1h0M169.0 746.2h0M158.8 768.6h0M175.1 765.2h0M170.2 760.5h0M120.1 843.3h0M183.9 748.2h0M180.4 746.8h0M136.3 812.4h0M138.2 776.4h0M148.0 793.2h0M162.5 749.5h0M168.1 775.7h0M139.2 783.6h0M135.3 816.2h0M168.2 769.0h0M153.3 752.7h0M190.6 751.5h0M132.3 787.9h0M140.9 832.9h0M155.0 826.0h0M131.6 841.2h0M163.3 755.6h0M135.2 820.3h0M163.8 771.9h0M143.6 836.6h0M149.5 775.9h0M175.6 760.4h0M125.2 794.0h0" stroke="#888" stroke-width="0.90" stroke-linecap="round" fill="none" opacity="0.7"/>
<path d="M128.5 785.2h0M125.5 785.2h0M148.7 757.5h0M140.6 766.2h0M157.9 748.5h0M118.7 834.2h0M138.6 769.7h0M135.4 780.9h0M120.9 834.8h0M117.7 796.7h0M141.2 771.3h0M125.6 787.8h0M147.1 763.3h0M117.8 835.2h0M124.0 828.5h0M137.8 771.0h0M119.9 814.2h0M146.7 764.9h0M133.1 779.9h0M149.2 758.0h0M146.0 759.3h0M117.3 797.5h0M158.5 747.1h0M124.0 822.2h0M134.9 771.8h0M120.0 825.8h0M135.8 773.4h0M152.1 752.0h0M161.3 754.3h0M157.2 747.0h0M121.4 827.8h0M137.1 769.0h0M154.2 754.7h0M121.3 812.3h0M124.3 839.1h0M125.1 783.8h0M139.8 768.4h0M118.0 838.5h0M120.0 824.0h0M158.1 746.5h0M116.7 811.5h0M118.3 809.9h0M122.7 800.7h0M147.0 757.1h0M118.2 826.3h0M121.7 801.9h0M141.0 776.3h0M131.0 786.6h0M146.6 760.3h0M118.3 831.2h0M117.7 806.8h0M122.3 835.2h0M141.2 770.3h0M124.0 785.0h0M119.7 794.2h0M121.2 815.1h0M118.8 814.8h0M120.0 819.3h0M145.1 766.0h0M145.0 759.6h0M127.5 790.2h0M121.0 843.4h0M130.7 780.7h0M131.9 774.5h0M156.2 750.2h0M154.6 749.8h0M121.9 801.0h0M118.9 806.7h0M158.2 749.4h0M141.2 767.2h0M153.6 748.9h0M117.7 816.7h0M129.7 777.6h0M116.9 815.9h0M121.6 836.6h0M127.3 786.7h0M157.2 747.5h0M140.0 779.0h0M118.7 806.0h0M123.0 792.1h0M117.7 814.2h0M145.5 764.8h0M165.4 749.6h0M117.3 836.4h0M150.3 758.7h0M120.0 827.6h0M118.3 815.5h0M137.6 776.1h0M150.7 758.6h0M152.6 756.4h0M155.2 750.1h0M123.2 841.9h0M129.5 777.4h0M125.2 788.3h0M116.9 848.3h0M160.3 753.8h0M121.1 798.0h0M156.2 747.3h0M161.1 747.5h0M118.0 840.1h0M117.0 818.3h0M137.9 767.7h0M119.1 825.0h0M120.8 839.2h0M119.3 843.8h0M130.9 789.2h0M141.5 767.8h0M117.5 799.3h0M125.2 782.6h0M122.8 788.0h0M118.3 830.3h0M129.6 786.6h0M140.5 765.7h0M134.6 776.2h0M118.5 821.5h0M152.5 756.4h0M117.3 798.8h0M122.4 788.8h0M133.7 772.9h0M150.8 753.5h0M122.2 829.3h0M118.8 812.1h0M153.0 761.0h0M130.8 781.7h0M117.9 818.0h0M120.4 820.4h0M149.4 760.4h0M132.9 773.4h0M119.8 812.7h0M116.7 805.2h0M149.3 760.2h0M118.4 836.7h0M158.6 757.9h0M117.6 843.4h0M128.5 786.6h0M156.8 748.6h0M146.6 763.0h0M122.0 797.3h0M153.4 756.4h0M128.0 789.4h0M118.5 811.7h0M159.2 746.7h0M118.4 808.8h0M143.7 763.5h0M153.6 747.5h0M123.5 846.5h0M128.9 786.3h0M117.5 812.1h0M144.6 763.7h0M155.3 753.6h0M134.3 779.4h0M144.0 764.5h0M126.2 793.7h0M119.9 828.7h0M149.7 756.1h0M135.5 770.4h0M119.1 829.1h0M123.5 787.2h0M134.1 786.1h0M146.7 759.2h0M128.1 778.9h0M123.4 831.8h0M147.7 760.8h0M155.7 746.2h0M158.3 747.5h0M155.2 760.4h0M117.5 812.7h0M117.0 837.1h0M119.6 848.2h0M119.1 844.5h0M119.0 826.7h0M118.1 825.1h0M148.0 765.7h0M133.1 784.4h0M122.5 788.2h0M150.2 759.6h0M119.4 829.5h0M128.2 779.6h0M117.4 808.1h0M143.4 772.0h0M117.9 824.7h0M134.5 778.5h0M117.8 823.8h0M121.6 820.9h0M122.7 848.9h0M136.3 772.8h0M124.3 783.2h0M118.5 809.7h0M124.8 794.6h0M120.6 796.8h0M165.1 747.8h0M117.6 796.4h0M119.0 797.2h0M122.5 789.7h0M151.7 756.8h0M132.2 776.1h0M146.9 764.4h0M120.5 845.7h0M152.5 763.0h0M119.0 814.6h0M118.0 843.1h0M159.8 748.3h0M135.5 775.0h0M117.4 796.1h0M117.3 797.8h0M122.0 789.3h0M119.9 830.2h0M154.3 754.9h0M124.4 791.1h0M116.8 827.1h0M116.9 819.8h0M128.2 784.8h0M157.8 754.4h0M117.5 826.4h0M117.9 802.7h0M160.6 752.1h0M126.7 780.4h0M123.5 828.3h0M117.3 847.0h0M153.0 751.9h0M140.2 770.8h0M146.4 761.5h0M161.2 756.0h0M121.5 800.9h0M149.8 762.5h0M124.9 848.2h0M122.3 847.9h0M151.2 756.1h0M118.7 843.0h0M117.4 829.3h0M141.8 768.1h0M142.2 764.3h0M118.5 800.3h0M117.9 835.9h0M116.8 832.8h0M159.8 750.4h0M157.2 751.1h0M134.1 771.3h0M150.7 761.1h0M141.1 765.7h0M143.9 763.0h0M152.8 753.1h0M131.5 780.4h0M121.1 789.0h0M147.1 757.6h0M124.8 788.9h0M117.6 837.9h0M157.5 751.6h0M127.6 779.0h0M117.5 822.0h0M117.2 828.3h0M123.1 833.5h0M137.7 767.7h0M119.7 797.8h0M122.2 787.3h0M131.1 781.4h0M134.3 782.3h0M117.0 831.0h0M124.9 792.8h0M147.4 759.7h0M116.7 826.8h0M137.2 767.8h0M130.8 780.7h0M117.7 819.5h0M117.3 846.9h0M121.0 839.3h0M119.7 809.1h0M118.1 794.3h0M120.1 802.3h0M129.8 787.2h0M147.2 761.3h0M136.6 774.7h0M160.8 748.8h0M122.4 792.8h0M119.1 816.0h0M122.7 787.8h0M128.4 778.3h0M147.8 757.8h0M138.8 775.6h0M136.4 772.9h0M138.3 772.2h0M134.0 774.8h0M123.6 836.0h0M123.5 844.0h0M124.0 838.0h0M131.2 783.1h0M118.0 795.3h0M140.8 770.3h0M116.9 825.8h0M135.4 779.5h0M123.3 839.0h0M118.8 837.6h0M117.8 828.0h0M134.3 775.7h0M122.9 822.7h0M147.2 759.2h0M119.4 848.2h0M116.6 837.8h0M119.2 830.0h0M117.3 818.7h0M121.2 841.1h0M119.7 843.5h0M117.2 810.5h0M155.2 745.8h0M148.5 757.9h0M117.3 804.4h0M120.2 828.9h0M124.3 846.7h0M116.6 831.9h0M132.2 781.5h0M144.5 767.3h0M120.2 827.2h0M118.7 818.9h0M155.2 751.5h0M138.4 769.9h0M122.0 786.4h0M154.7 752.0h0M156.8 748.9h0M118.5 810.7h0M121.3 821.3h0M123.9 813.8h0M116.9 820.2h0M119.0 822.8h0M118.1 816.1h0M121.8 816.1h0M119.4 806.6h0M125.3 782.9h0M133.4 775.8h0M137.8 777.7h0M121.1 848.9h0M118.6 805.4h0M135.0 780.4h0M117.5 823.5h0M140.2 766.7h0M119.1 831.1h0M117.5 835.2h0M132.0 783.2h0M133.7 773.0h0M139.9 769.1h0M129.6 787.7h0M121.9 798.3h0M119.5 803.3h0M142.2 770.8h0M147.9 760.0h0M118.4 840.7h0M139.6 768.0h0M123.4 807.1h0M117.8 799.8h0M117.7 815.5h0M117.2 815.0h0M120.1 843.0h0M155.5 748.3h0M131.6 775.4h0M126.2 787.3h0M117.5 845.0h0M117.1 812.3h0M117.1 830.0h0M141.8 776.8h0M142.5 770.3h0M133.6 783.6h0M157.2 749.3h0M120.5 799.8h0M153.6 746.6h0M118.1 802.2h0M121.1 788.9h0M144.3 762.4h0M119.0 844.9h0M155.3 759.7h0M120.4 805.3h0M155.3 747.1h0M124.9 798.9h0M124.9 791.3h0M120.4 848.1h0M152.7 759.8h0M124.3 788.2h0M117.5 815.0h0M119.6 817.7h0M134.5 782.2h0M150.3 757.6h0M130.0 777.0h0M119.8 804.4h0M131.2 788.1h0M140.8 768.0h0M146.7 768.2h0M121.8 830.9h0M149.4 763.1h0M120.1 830.7h0M142.6 762.6h0M144.3 763.8h0M120.3 790.4h0M120.7 839.5h0M127.6 788.9h0M123.9 790.6h0M136.3 770.6h0M156.7 750.4h0M134.2 781.6h0M152.9 750.2h0M121.1 832.5h0M117.8 835.6h0M118.4 803.2h0M118.7 839.3h0M126.9 784.8h0M149.0 761.9h0M117.1 821.9h0M136.9 774.6h0M118.0 815.5h0M139.5 773.5h0M120.7 808.0h0M155.2 757.8h0M118.3 818.5h0M121.4 802.8h0M117.2 848.1h0M119.9 792.3h0M145.5 760.4h0M129.9 781.8h0M118.9 842.4h0M119.3 797.8h0M125.7 783.4h0M123.1 807.1h0M116.6 830.7h0M119.2 819.1h0M120.1 790.7h0M121.8 822.4h0M118.6 814.9h0M155.8 750.1h0M159.9 749.4h0M155.2 753.0h0M117.9 807.3h0M149.3 755.7h0M159.3 747.9h0M126.4 781.3h0M119.7 793.3h0M137.0 773.8h0M142.7 764.8h0M156.8 751.3h0M125.3 787.7h0M154.0 760.5h0M150.2 756.9h0M135.6 775.4h0M121.0 829.7h0M126.0 784.0h0M122.1 787.5h0M138.2 766.8h0M121.9 834.7h0M118.1 826.5h0M119.9 793.8h0M122.4 799.1h0M117.2 832.4h0M148.3 760.5h0M125.8 786.1h0M157.3 749.1h0M155.0 753.3h0M119.5 825.5h0M117.4 832.3h0M125.8 787.2h0M163.1 745.4h0M146.2 766.8h0M123.8 813.7h0M143.2 770.6h0M121.1 815.6h0M121.7 788.0h0M117.3 841.6h0M120.1 827.9h0M121.6 830.8h0M147.6 764.8h0M122.9 786.4h0M163.1 750.3h0M143.2 771.8h0M119.1 819.6h0M123.5 787.2h0M120.6 836.8h0M120.5 789.4h0M149.8 759.1h0M160.0 749.4h0M124.4 806.7h0M121.7 812.9h0M117.8 832.4h0M120.4 838.1h0M119.3 792.2h0M160.5 752.7h0M141.4 762.8h0M124.5 786.5h0M128.1 780.3h0M120.7 790.6h0M118.9 814.5h0M121.7 792.4h0M151.3 753.1h0M142.8 762.5h0M120.3 845.9h0M153.3 763.4h0M143.6 762.4h0M118.0 817.9h0M121.1 790.8h0M119.2 800.8h0M157.2 748.8h0M118.9 829.3h0M138.2 772.9h0M139.8 769.6h0M123.5 784.6h0M155.9 750.8h0M119.4 804.3h0M139.4 772.3h0M116.8 824.7h0M143.7 775.2h0M129.1 780.6h0M127.2 788.1h0M132.3 778.2h0M135.8 775.4h0M116.6 823.1h0M154.7 747.5h0M119.0 813.9h0M147.6 761.4h0M141.7 762.7h0M127.8 788.1h0M121.6 838.8h0M116.9 831.8h0M129.7 788.0h0M132.5 782.5h0M125.0 787.9h0M117.6 837.4h0M124.9 787.1h0M117.7 803.4h0M151.0 756.7h0M153.1 757.6h0M142.2 764.6h0M127.9 786.0h0M143.8 763.1h0M153.1 756.5h0M127.2 789.1h0M118.2 814.0h0M132.3 784.0h0M132.6 782.7h0M118.0 804.7h0M155.5 746.9h0M124.0 844.7h0M120.9 794.6h0M148.9 758.2h0M160.4 748.0h0M117.3 825.9h0M118.0 838.2h0M119.7 844.2h0M118.1 837.5h0M118.5 828.6h0M139.3 776.0h0M117.9 812.7h0M122.0 822.9h0M116.7 847.9h0M132.3 784.0h0M137.9 770.1h0M117.0 840.5h0M119.0 848.4h0M120.1 826.8h0M121.6 808.4h0M147.7 756.4h0M137.6 771.9h0M117.9 815.4h0M146.7 758.4h0M128.4 779.8h0M118.3 827.2h0M151.2 756.8h0M141.7 772.7h0M141.7 771.4h0M122.0 837.7h0M157.7 746.9h0M116.8 830.9h0M151.4 752.4h0M150.1 755.9h0M154.4 748.1h0M132.7 776.3h0M153.9 749.8h0M127.4 779.2h0M150.1 760.1h0M140.8 765.4h0M137.3 774.6h0M123.1 838.4h0M154.0 750.8h0M158.1 750.4h0M156.3 749.1h0M121.5 819.0h0M126.1 782.2h0M121.5 812.5h0M159.7 751.2h0M123.4 796.6h0M147.7 758.6h0M143.7 766.1h0M121.5 814.9h0M125.7 790.1h0M118.3 813.2h0M135.4 776.2h0M146.7 768.9h0M117.0 801.8h0M118.8 834.4h0M151.0 757.3h0M137.3 771.7h0M121.3 793.4h0M137.6 775.1h0M120.6 791.4h0M118.5 831.5h0M122.4 846.5h0M133.9 775.4h0M147.1 760.1h0M117.1 812.6h0M121.7 821.1h0M151.7 761.0h0M118.2 836.1h0M153.5 752.7h0M123.5 792.7h0M143.7 768.7h0M148.4 762.0h0M153.2 750.6h0M140.6 773.5h0M163.7 750.0h0M154.8 750.6h0M121.6 835.0h0M126.0 788.7h0M127.3 781.1h0M132.0 775.6h0M140.8 765.0h0M150.2 756.8h0M144.3 769.0h0M137.2 771.0h0M136.9 776.0h0M117.4 826.4h0M127.4 786.3h0M149.6 759.3h0M152.2 762.0h0M118.9 830.8h0M119.6 831.7h0M116.5 824.0h0M123.3 787.8h0M140.1 769.4h0M148.6 763.7h0M122.7 793.5h0M116.6 832.6h0M122.3 839.7h0M135.9 771.5h0M158.5 748.4h0M117.3 837.7h0M137.0 777.9h0M117.1 807.5h0M163.4 750.7h0M125.6 786.7h0M125.2 782.8h0M122.1 796.6h0M119.5 830.0h0M139.7 770.0h0M118.0 848.0h0M119.9 806.8h0M146.3 765.4h0M119.0 845.0h0M130.6 776.2h0M122.4 844.1h0M144.6 764.2h0M123.3 820.4h0M142.6 768.6h0M121.3 833.1h0M157.1 755.8h0M120.1 823.9h0M118.3 806.2h0M152.6 746.4h0M130.8 781.8h0M137.0 779.6h0M149.9 769.3h0M120.8 790.4h0M140.9 764.5h0M118.2 799.4h0M139.1 782.5h0M119.9 798.0h0M116.7 818.7h0M122.1 831.4h0M144.3 773.8h0M138.2 767.8h0M126.3 788.1h0M159.7 746.5h0M117.4 824.5h0M135.8 770.6h0M123.1 798.0h0M117.0 828.9h0M154.0 751.4h0M116.7 804.0h0M153.1 760.3h0M117.0 830.0h0M154.7 749.8h0M120.6 790.9h0M121.6 819.6h0M122.8 792.3h0M145.5 769.5h0M119.4 837.5h0M121.9 790.8h0M153.4 747.1h0M118.5 814.8h0M123.6 819.2h0M120.0 832.2h0M119.9 843.1h0M130.9 775.7h0M137.3 767.7h0M156.3 750.5h0M117.7 848.0h0M143.0 761.3h0M121.5 788.6h0M154.4 758.4h0M146.3 760.4h0M149.9 760.6h0M144.6 768.6h0M152.7 750.1h0M149.8 761.8h0M142.3 765.6h0M125.4 786.7h0M136.4 772.8h0M121.3 810.5h0M119.4 818.4h0M118.9 819.8h0M120.8 817.4h0M128.4 780.7h0M129.8 787.5h0M120.6 843.7h0M128.6 782.3h0M118.1 809.4h0M118.6 793.3h0M122.0 818.5h0M124.4 784.6h0M131.2 784.3h0M122.8 832.0h0M123.5 786.7h0M123.9 789.5h0M120.5 831.4h0M116.5 848.2h0M155.8 759.5h0M117.7 832.9h0M134.2 779.5h0M155.7 750.4h0M122.8 785.7h0M158.2 750.6h0M117.7 848.0h0M145.8 759.5h0M119.7 839.7h0M136.5 775.7h0M118.8 835.4h0M121.9 801.9h0M155.0 754.9h0M145.8 768.7h0M118.6 832.0h0M139.2 772.2h0M123.4 789.6h0M121.1 807.7h0M121.0 846.5h0M124.8 803.0h0M127.7 783.0h0M134.3 771.0h0M126.9 792.7h0M151.4 745.9h0M134.9 775.6h0M120.4 814.9h0M136.2 774.3h0M120.9 819.9h0M118.9 796.0h0M120.2 831.7h0M161.1 746.8h0M157.1 750.3h0M143.0 769.5h0M142.2 763.7h0M153.8 747.4h0M117.5 813.4h0M128.3 786.8h0M116.6 812.6h0M118.2 828.0h0M131.5 774.3h0M118.2 843.0h0M163.2 746.4h0M163.6 747.2h0M148.5 761.0h0M119.9 790.7h0M120.2 806.3h0M139.4 775.8h0M117.3 803.3h0M145.3 759.2h0M117.1 831.0h0M133.5 776.6h0M119.2 792.4h0M118.9 794.9h0M148.9 757.3h0M143.5 771.7h0M116.6 808.1h0M135.1 777.0h0M119.8 805.9h0M121.9 797.2h0M131.3 780.0h0M119.6 793.7h0M120.4 822.9h0M135.7 773.5h0M123.2 794.6h0M125.7 784.6h0M142.9 763.0h0M121.0 839.8h0M118.1 803.8h0M118.7 819.1h0M137.1 769.5h0M117.3 810.2h0M118.4 838.8h0M120.1 836.3h0M119.1 817.4h0M121.6 800.8h0M119.9 839.8h0M125.1 789.1h0M140.7 765.6h0M134.5 772.0h0M135.1 782.6h0M121.9 802.3h0M123.5 784.8h0M122.7 818.2h0M122.5 805.7h0M120.8 821.7h0M143.3 763.0h0M121.9 787.8h0M144.2 760.7h0M146.7 767.7h0M135.4 773.4h0M128.4 780.9h0M123.3 811.5h0M154.1 749.3h0M117.9 834.8h0M139.1 769.5h0M119.4 821.0h0M140.4 766.9h0M122.3 785.8h0M128.1 780.6h0M152.5 756.2h0M154.6 749.1h0M119.4 818.2h0M157.4 752.7h0M118.7 795.6h0M131.2 789.3h0M155.4 748.4h0M131.4 776.3h0M127.9 786.4h0M117.1 844.5h0M122.7 842.1h0M123.8 786.4h0M118.1 799.7h0M133.1 772.6h0M119.3 809.1h0M152.6 752.1h0M134.5 779.5h0M152.7 763.2h0M116.8 811.6h0M122.4 825.7h0M137.0 769.5h0M117.5 845.2h0M132.6 787.9h0M128.1 786.7h0M131.9 780.0h0M145.5 772.7h0M123.4 793.8h0M138.5 772.6h0M116.8 841.3h0M124.5 784.7h0M137.9 768.0h0M137.3 768.3h0M152.0 752.6h0M156.7 747.0h0M156.0 759.4h0M117.9 816.4h0M135.7 772.1h0M121.0 840.8h0M117.0 840.4h0M161.0 750.1h0M119.5 813.6h0M126.8 781.1h0M117.0 840.0h0M156.2 746.7h0M121.4 790.0h0M141.2 769.6h0M120.9 804.3h0M124.2 810.5h0M136.9 776.1h0M144.0 760.4h0M117.0 834.7h0M120.3 821.8h0M146.5 762.5h0M119.8 828.1h0M122.2 794.1h0M130.7 781.2h0M157.0 749.5h0M120.0 819.9h0M119.1 803.8h0M122.0 839.1h0M134.6 771.1h0M150.3 758.5h0M119.0 820.6h0M121.2 790.4h0M134.6 771.1h0M119.4 798.0h0M123.1 800.0h0M120.5 802.3h0M128.7 778.5h0M121.5 790.9h0M157.8 752.4h0M119.0 845.3h0M134.9 777.8h0M119.3 797.1h0" stroke="#14143a" stroke-width="1.10" stroke-linecap="round" fill="none" opacity="0.9"/>
<path d="M92.6 744.8 L150.0 744.5 L155.0 748.0 L150.0 755.0 L143.0 762.0 L136.0 770.0 L129.0 778.0 L123.0 786.0 L118.5 795.0 L117.5 805.0 L117.5 848.5 L92.6 848.5Z" fill="#10102a" opacity="1.0" />
<path d="M92.6 753.0 L96.6 757.0 L96.2 800.0 L96.0 848.5 L92.6 848.5Z" fill="#ececf2" opacity="1.0" />
<path d="M98.7 800.0 L98.7 758.0 L100.5 754.5 L104.0 752.2 L110.0 750.6 L128.0 749.6 L140.0 749.2 L133.0 755.0 L125.3 761.8 L116.0 772.0 L108.0 780.0 L104.0 785.3 L104.0 800.0Z" fill="#e6e6ee" opacity="1.0" />
<path d="M110.0 751.0 L140.0 749.2 L133.0 755.0 L125.3 761.8 L118.0 769.0 L112.0 760.0Z" fill="#ffffff" opacity="1.0" />
<path d="M99.5 799.0 L100.0 776.0 L102.0 762.0 L108.0 756.0 L126.0 752.5" fill="none" stroke="#8a8a8a" stroke-width="0.6" opacity="1.0" stroke-linejoin="round"/>
<path d="M100.6 799.0 L101.3 776.0 L104.2 762.0 L110.8 756.0 L122.0 752.5" fill="none" stroke="#8a8a8a" stroke-width="0.6" opacity="1.0" stroke-linejoin="round"/>
<path d="M101.7 799.0 L102.6 776.0 L106.4 762.0 L113.6 756.0 L118.0 752.5" fill="none" stroke="#8a8a8a" stroke-width="0.6" opacity="1.0" stroke-linejoin="round"/>
<path d="M102.8 799.0 L103.9 776.0 L108.6 762.0 L116.4 756.0 L114.0 752.5" fill="none" stroke="#8a8a8a" stroke-width="0.6" opacity="1.0" stroke-linejoin="round"/>
<path d="M104.0 805.0 L111.8 805.0 L112.4 845.0 L104.0 845.0Z" fill="#fbfbfb" opacity="1.0" />
<ellipse cx="107.8" cy="821" rx="1" ry="3.2" fill="none" stroke="#777" stroke-width="0.6"/>
<line x1="100.50" y1="804.00" x2="100.50" y2="845.00" stroke="#4a4a70" stroke-width="0.8" />
<text x="171.0" y="769.9" font-size="13" fill="#111">R1</text>
<text x="140.0" y="782.2" font-size="13" fill="#111">R2</text>
<rect x="121.5" y="779.0" width="17" height="12" fill="#fff" opacity="0.75"/>
<text x="122.5" y="789.5" font-size="13" fill="#111">R3</text>
<rect x="109.7" y="791.1" width="20" height="12.6" fill="#fff"/>
<text x="113.0" y="802.4" font-size="13" fill="#111">R4</text>
<text x="117.0" y="843.4" font-size="13" fill="#111">R5</text>
<path d="M96.9 752.6 L109.4 749.1 L109.6 795.4 L96.6 795.4Z" fill="none" stroke="#5a5ac0" stroke-width="0.75"/>
<path d="M108.3 749.5 L118.7 747.4 L121.3 776.0 L109.6 787.6Z" fill="none" stroke="#5a5ac0" stroke-width="0.75"/>
<path d="M118.7 747.4 L136.3 746.1 L141.5 773.4 L121.3 776.0Z" fill="none" stroke="#5a5ac0" stroke-width="0.75"/>
<path d="M136.3 746.1 L193.9 744.8 L190.9 755.6 L141.5 773.4Z" fill="none" stroke="#5a5ac0" stroke-width="0.75"/>
<path d="M96.6 798.2 L112.9 798.5 L114.6 850.3 L97.1 850.3Z" fill="none" stroke="#5a5ac0" stroke-width="0.75"/>
<rect x="92.2" y="744.3" width="105.8" height="104.7" fill="none" stroke="#999" stroke-width="1"/>
<text x="210.5" y="757.1" font-size="5" text-anchor="end" fill="#555" class="nr">10<tspan font-size="3.4" dy="-2.3">5</tspan></text>
<line x1="213.60" y1="755.20" x2="215.40" y2="755.20" stroke="#555" stroke-width="0.8" />
<text x="210.5" y="780.5" font-size="5" text-anchor="end" fill="#555" class="nr">10<tspan font-size="3.4" dy="-2.3">4</tspan></text>
<line x1="213.60" y1="778.60" x2="215.40" y2="778.60" stroke="#555" stroke-width="0.8" />
<text x="210.5" y="805.3" font-size="5" text-anchor="end" fill="#555" class="nr">10<tspan font-size="3.4" dy="-2.3">3</tspan></text>
<line x1="213.60" y1="803.40" x2="215.40" y2="803.40" stroke="#555" stroke-width="0.8" />
<text x="210.5" y="830.5" font-size="5" text-anchor="end" fill="#555" class="nr">10<tspan font-size="3.4" dy="-2.3">2</tspan></text>
<line x1="213.60" y1="828.60" x2="215.40" y2="828.60" stroke="#555" stroke-width="0.8" />
<text x="211.2" y="842.0" font-size="5.2" text-anchor="end" fill="#555" class="nr">0</text>
<line x1="213.60" y1="840.20" x2="215.40" y2="840.20" stroke="#222" stroke-width="1.2" />
<text x="215.9" y="860.1" font-size="5.2" text-anchor="middle" fill="#444" class="nr">0</text>
<line x1="215.90" y1="850.60" x2="215.90" y2="852.40" stroke="#555" stroke-width="0.8" />
<text x="235.9" y="860.1" font-size="5.2" text-anchor="middle" fill="#444" class="nr">50K</text>
<line x1="235.90" y1="850.60" x2="235.90" y2="852.40" stroke="#555" stroke-width="0.8" />
<text x="256.1" y="860.1" font-size="5.2" text-anchor="middle" fill="#444" class="nr">100K</text>
<line x1="256.10" y1="850.60" x2="256.10" y2="852.40" stroke="#555" stroke-width="0.8" />
<text x="276.4" y="860.1" font-size="5.2" text-anchor="middle" fill="#444" class="nr">150K</text>
<line x1="276.40" y1="850.60" x2="276.40" y2="852.40" stroke="#555" stroke-width="0.8" />
<text x="296.4" y="860.1" font-size="5.2" text-anchor="middle" fill="#444" class="nr">200K</text>
<line x1="296.40" y1="850.60" x2="296.40" y2="852.40" stroke="#555" stroke-width="0.8" />
<text x="315.9" y="860.1" font-size="5.2" text-anchor="middle" fill="#444" class="nr">250K</text>
<line x1="315.90" y1="850.60" x2="315.90" y2="852.40" stroke="#555" stroke-width="0.8" />
<path d="M220.1 753.7 L232.6 750.2 L232.8 796.5 L219.8 796.5Z" fill="none" stroke="#555" stroke-width="0.8"/>
<path d="M231.5 750.6 L241.9 748.5 L244.5 777.1 L232.8 788.7Z" fill="none" stroke="#555" stroke-width="0.8"/>
<path d="M241.9 748.5 L259.5 747.2 L264.7 774.5 L244.5 777.1Z" fill="none" stroke="#555" stroke-width="0.8"/>
<path d="M259.5 747.2 L317.1 745.9 L314.1 756.7 L264.7 774.5Z" fill="none" stroke="#555" stroke-width="0.8"/>
<path d="M219.8 799.3 L236.1 799.6 L237.8 851.4 L220.3 851.4Z" fill="none" stroke="#555" stroke-width="0.8"/>
<rect x="215.4" y="745.4" width="105.8" height="105.2" fill="none" stroke="#999" stroke-width="1"/>
<text x="283.7" y="824.4" font-size="13" font-weight="bold" text-anchor="middle"><tspan fill="#111">11, </tspan><tspan fill="#c8202a" stroke="#c8202a">10</tspan></text>
<text x="331.7" y="757.7" font-size="5" text-anchor="end" fill="#555" class="nr">10<tspan font-size="3.4" dy="-2.3">5</tspan></text>
<line x1="334.80" y1="755.80" x2="336.60" y2="755.80" stroke="#555" stroke-width="0.8" />
<text x="331.7" y="781.1" font-size="5" text-anchor="end" fill="#555" class="nr">10<tspan font-size="3.4" dy="-2.3">4</tspan></text>
<line x1="334.80" y1="779.20" x2="336.60" y2="779.20" stroke="#555" stroke-width="0.8" />
<text x="331.7" y="805.9" font-size="5" text-anchor="end" fill="#555" class="nr">10<tspan font-size="3.4" dy="-2.3">3</tspan></text>
<line x1="334.80" y1="804.00" x2="336.60" y2="804.00" stroke="#555" stroke-width="0.8" />
<text x="331.7" y="831.1" font-size="5" text-anchor="end" fill="#555" class="nr">10<tspan font-size="3.4" dy="-2.3">2</tspan></text>
<line x1="334.80" y1="829.20" x2="336.60" y2="829.20" stroke="#555" stroke-width="0.8" />
<text x="332.4" y="842.6" font-size="5.2" text-anchor="end" fill="#555" class="nr">0</text>
<line x1="334.80" y1="840.80" x2="336.60" y2="840.80" stroke="#222" stroke-width="1.2" />
<text x="337.1" y="860.6" font-size="5.2" text-anchor="middle" fill="#444" class="nr">0</text>
<line x1="337.10" y1="851.10" x2="337.10" y2="852.90" stroke="#555" stroke-width="0.8" />
<text x="357.1" y="860.6" font-size="5.2" text-anchor="middle" fill="#444" class="nr">50K</text>
<line x1="357.10" y1="851.10" x2="357.10" y2="852.90" stroke="#555" stroke-width="0.8" />
<text x="377.3" y="860.6" font-size="5.2" text-anchor="middle" fill="#444" class="nr">100K</text>
<line x1="377.30" y1="851.10" x2="377.30" y2="852.90" stroke="#555" stroke-width="0.8" />
<text x="397.6" y="860.6" font-size="5.2" text-anchor="middle" fill="#444" class="nr">150K</text>
<line x1="397.60" y1="851.10" x2="397.60" y2="852.90" stroke="#555" stroke-width="0.8" />
<text x="417.6" y="860.6" font-size="5.2" text-anchor="middle" fill="#444" class="nr">200K</text>
<line x1="417.60" y1="851.10" x2="417.60" y2="852.90" stroke="#555" stroke-width="0.8" />
<text x="437.1" y="860.6" font-size="5.2" text-anchor="middle" fill="#444" class="nr">250K</text>
<line x1="437.10" y1="851.10" x2="437.10" y2="852.90" stroke="#555" stroke-width="0.8" />
<path d="M341.3 754.3 L353.8 750.8 L354.0 797.1 L341.0 797.1Z" fill="none" stroke="#555" stroke-width="0.8"/>
<path d="M352.7 751.2 L363.1 749.1 L365.7 777.7 L354.0 789.3Z" fill="none" stroke="#555" stroke-width="0.8"/>
<path d="M363.1 749.1 L380.7 747.8 L385.9 775.1 L365.7 777.7Z" fill="none" stroke="#555" stroke-width="0.8"/>
<path d="M380.7 747.8 L438.3 746.5 L435.3 757.3 L385.9 775.1Z" fill="none" stroke="#555" stroke-width="0.8"/>
<path d="M341.0 799.9 L357.3 800.2 L359.0 852.0 L341.5 852.0Z" fill="none" stroke="#555" stroke-width="0.8"/>
<rect x="336.6" y="746.0" width="105.4" height="105.1" fill="none" stroke="#999" stroke-width="1"/>
<text x="413.5" y="822.2" font-size="13" font-weight="bold" text-anchor="middle"><tspan fill="#111">10, </tspan><tspan fill="#c8202a" stroke="#c8202a">19</tspan></text>
<path d="M239.2 642.9h0M246.2 639.5h0M255.3 638.7h0M260.0 639.0h0M236.0 655.6h0M258.1 662.9h0M225.2 676.4h0" stroke="#111" stroke-width="2.4" stroke-linecap="round" fill="none"/>
<path d="M223.2 654.3h0M226.6 654.3h0M223.0 659.0h0M221.8 660.4h0M224.5 661.6h0M222.4 657.0h0M225.5 657.8h0M223.5 666.5h0M248.8 665.5h0M224.9 675.8h0M225.9 699.1h0M223.9 702.6h0M222.3 702.8h0M223.2 729.8h0M225.4 729.6h0M227.6 729.9h0M227.0 655.8h0" stroke="#e0201c" stroke-width="2.4" stroke-linecap="round" fill="none"/>
<path d="M250.8 752.4h0M240.5 757.0h0M243.0 759.0h0M245.6 760.2h0M268.5 755.0h0M235.8 779.7h0M234.7 802.0h0M227.5 813.0h0M228.2 846.7h0M223.0 848.5h0M242.0 757.6h0" stroke="#111" stroke-width="2.4" stroke-linecap="round" fill="none"/>
<path d="M280.7 746.7h0M258.6 753.2h0M231.4 757.9h0M231.4 774.7h0M242.5 770.0h0M223.0 776.5h0M221.5 814.2h0M236.6 811.0h0M225.6 833.2h0M221.5 846.2h0" stroke="#e0201c" stroke-width="2.4" stroke-linecap="round" fill="none"/>
<path d="M360.3 754.5h0M372.0 750.0h0M377.7 750.0h0M382.9 755.8h0M344.7 768.0h0M348.6 770.6h0M351.7 766.2h0M353.8 762.8h0M355.6 762.8h0M349.9 782.5h0M346.0 827.2h0M349.4 826.7h0M346.0 832.4h0M346.5 840.2h0M347.3 844.0h0M346.0 849.3h0" stroke="#111" stroke-width="2.4" stroke-linecap="round" fill="none"/>
<path d="M352.5 754.5h0M343.9 762.3h0M344.7 763.6h0M350.6 770.8h0M353.2 773.4h0M368.8 766.2h0M344.2 787.7h0M344.2 798.1h0M345.2 819.4h0M347.3 849.3h0" stroke="#e0201c" stroke-width="2.4" stroke-linecap="round" fill="none"/>
</svg></body></html>
